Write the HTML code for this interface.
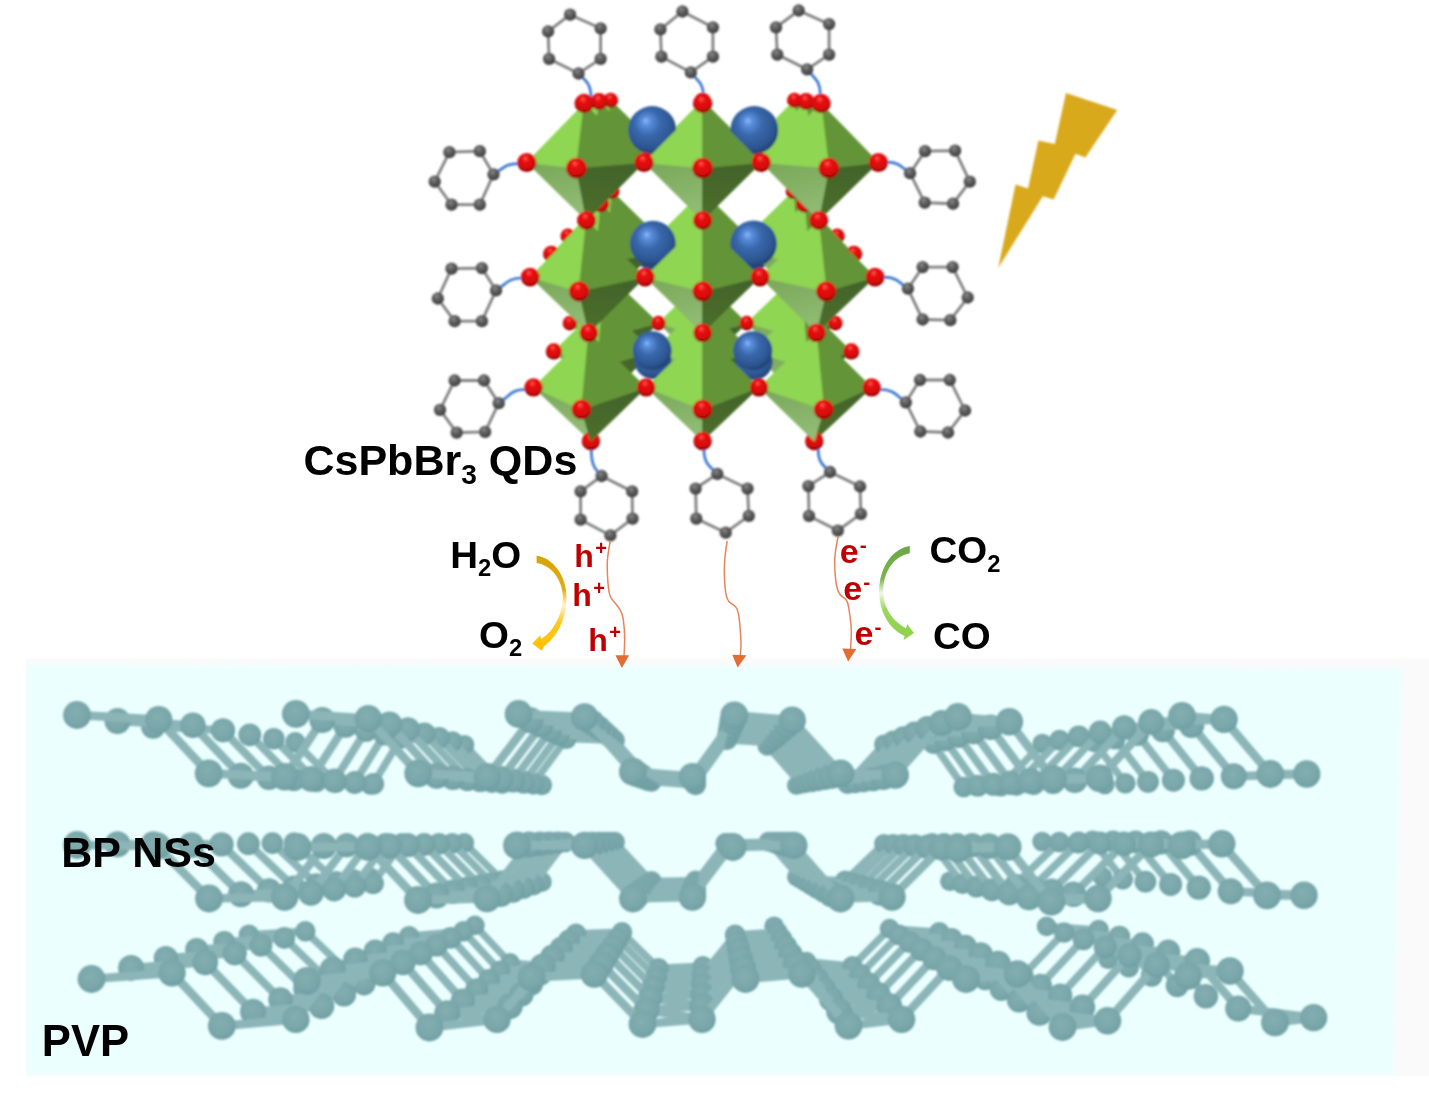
<!DOCTYPE html>
<html><head><meta charset="utf-8"><style>html,body{margin:0;padding:0;background:#fff}svg{display:block}</style></head><body><svg width="1429" height="1102" viewBox="0 0 1429 1102">
<defs>
<radialGradient id="gR" cx="0.5" cy="0.38" r="0.64" fx="0.42" fy="0.27">
 <stop offset="0" stop-color="#ff8a7a"/><stop offset="0.1" stop-color="#f83434"/><stop offset="0.3" stop-color="#e81212"/><stop offset="0.72" stop-color="#d40909"/><stop offset="0.81" stop-color="#a80505"/><stop offset="1" stop-color="#820202"/>
</radialGradient>
<radialGradient id="gB" cx="0.46" cy="0.42" r="0.66" fx="0.36" fy="0.30">
 <stop offset="0" stop-color="#8abaff"/><stop offset="0.14" stop-color="#5a8edc"/><stop offset="0.4" stop-color="#3a68ac"/><stop offset="0.75" stop-color="#2c5590"/><stop offset="0.9" stop-color="#213f70"/><stop offset="1" stop-color="#182f58"/>
</radialGradient>
<radialGradient id="gC" cx="0.44" cy="0.40" r="0.66" fx="0.40" fy="0.30">
 <stop offset="0" stop-color="#8e8e8e"/><stop offset="0.3" stop-color="#686868"/><stop offset="0.75" stop-color="#484848"/><stop offset="1" stop-color="#2c2c2c"/>
</radialGradient>
<radialGradient id="gP" cx="0.45" cy="0.40" r="0.65">
 <stop offset="0" stop-color="#84aeb0"/><stop offset="0.6" stop-color="#7aa7aa"/><stop offset="1" stop-color="#6c9da1"/>
</radialGradient>
<linearGradient id="gBL" x1="0.3" y1="0" x2="0.6" y2="1"><stop offset="0" stop-color="#7aa85a"/><stop offset="1" stop-color="#93bd76"/></linearGradient>
<linearGradient id="gBR" x1="0.5" y1="0" x2="0.3" y2="1"><stop offset="0" stop-color="#42632a"/><stop offset="1" stop-color="#4b6f2d"/></linearGradient>
<filter id="bl" x="-5%" y="-20%" width="110%" height="140%"><feGaussianBlur stdDeviation="1.3"/></filter>
<filter id="b05" x="-5%" y="-5%" width="110%" height="110%"><feGaussianBlur stdDeviation="0.85"/></filter>
<filter id="b2" x="-5%" y="-5%" width="110%" height="110%"><feGaussianBlur stdDeviation="2.2"/></filter>

<filter id="b04" x="-2%" y="-2%" width="104%" height="104%"><feGaussianBlur stdDeviation="0.45"/></filter>
<linearGradient id="gY" x1="0" y1="0" x2="0" y2="1"><stop offset="0" stop-color="#d9a300"/><stop offset="0.35" stop-color="#e0ad10"/><stop offset="0.52" stop-color="#fff4d0"/><stop offset="0.7" stop-color="#ffc81e"/><stop offset="1" stop-color="#ffc000"/></linearGradient>
<linearGradient id="gG" x1="0" y1="0" x2="0" y2="1"><stop offset="0" stop-color="#6aa842"/><stop offset="0.35" stop-color="#7ab552"/><stop offset="0.5" stop-color="#eef8e4"/><stop offset="0.68" stop-color="#9ad65c"/><stop offset="1" stop-color="#8fd04a"/></linearGradient>
</defs>
<rect width="1429" height="1102" fill="#fff"/>
<rect x="25.5" y="658.5" width="1404" height="417" fill="#fafafa"/>
<g filter="url(#b2)"><polygon points="25.5,665 1401.5,668 1393.7,1075.5 25.5,1075.5" fill="#ebffff"/></g>
<rect x="0" y="650" width="25.5" height="440" fill="#fff"/><rect x="0" y="1076" width="1429" height="26" fill="#fff"/>
<g filter="url(#bl)"><circle cx="370.3" cy="785.3" r="9.4" fill="url(#gP)"/><circle cx="796.4" cy="785.3" r="9.4" fill="url(#gP)"/><line x1="464.5" y1="744.7" x2="502.2" y2="784.0" stroke="#8cb5b8" stroke-width="7.2" stroke-linecap="round"/><line x1="767.3" y1="745.9" x2="800.8" y2="784.0" stroke="#8cb5b8" stroke-width="7.2" stroke-linecap="round"/><circle cx="464.5" cy="744.7" r="9.8" fill="url(#gP)"/><circle cx="767.3" cy="745.9" r="9.8" fill="url(#gP)"/><line x1="541.8" y1="785.0" x2="502.2" y2="784.0" stroke="#8cb5b8" stroke-width="7.3" stroke-linecap="round"/><line x1="847.6" y1="783.8" x2="800.8" y2="784.0" stroke="#8cb5b8" stroke-width="7.3" stroke-linecap="round"/><line x1="847.6" y1="783.8" x2="883.9" y2="744.2" stroke="#8cb5b8" stroke-width="7.3" stroke-linecap="round"/><line x1="933.3" y1="743.9" x2="883.9" y2="744.2" stroke="#8cb5b8" stroke-width="7.3" stroke-linecap="round"/><line x1="1000.8" y1="786.2" x2="1042.3" y2="743.5" stroke="#8cb5b8" stroke-width="7.3" stroke-linecap="round"/><line x1="1094.2" y1="742.1" x2="1042.3" y2="743.5" stroke="#8cb5b8" stroke-width="7.3" stroke-linecap="round"/><circle cx="354.0" cy="784.0" r="9.8" fill="url(#gP)"/><circle cx="502.2" cy="784.0" r="9.8" fill="url(#gP)"/><circle cx="800.8" cy="784.0" r="9.8" fill="url(#gP)"/><circle cx="883.9" cy="744.2" r="9.8" fill="url(#gP)"/><circle cx="1042.3" cy="743.5" r="9.8" fill="url(#gP)"/><circle cx="1104.8" cy="784.5" r="9.8" fill="url(#gP)"/><line x1="295.3" y1="742.3" x2="336.0" y2="782.7" stroke="#8cb5b8" stroke-width="7.4" stroke-linecap="round"/><line x1="400.8" y1="738.5" x2="452.5" y2="741.5" stroke="#8cb5b8" stroke-width="7.4" stroke-linecap="round"/><line x1="452.5" y1="741.5" x2="491.8" y2="782.7" stroke="#8cb5b8" stroke-width="7.4" stroke-linecap="round"/><line x1="491.8" y1="782.7" x2="541.8" y2="785.0" stroke="#8cb5b8" stroke-width="7.4" stroke-linecap="round"/><line x1="566.4" y1="738.6" x2="614.7" y2="740.3" stroke="#8cb5b8" stroke-width="7.4" stroke-linecap="round"/><line x1="614.7" y1="740.3" x2="651.4" y2="781.5" stroke="#8cb5b8" stroke-width="7.4" stroke-linecap="round"/><line x1="651.4" y1="781.5" x2="695.6" y2="785.0" stroke="#8cb5b8" stroke-width="7.4" stroke-linecap="round"/><line x1="726.8" y1="739.7" x2="770.4" y2="742.7" stroke="#8cb5b8" stroke-width="7.4" stroke-linecap="round"/><line x1="770.4" y1="742.7" x2="805.7" y2="782.7" stroke="#8cb5b8" stroke-width="7.4" stroke-linecap="round"/><line x1="805.7" y1="782.7" x2="847.6" y2="783.8" stroke="#8cb5b8" stroke-width="7.4" stroke-linecap="round"/><line x1="893.1" y1="740.9" x2="933.3" y2="743.9" stroke="#8cb5b8" stroke-width="7.4" stroke-linecap="round"/><line x1="933.3" y1="743.9" x2="963.7" y2="787.0" stroke="#8cb5b8" stroke-width="7.4" stroke-linecap="round"/><line x1="963.7" y1="787.0" x2="1000.8" y2="786.2" stroke="#8cb5b8" stroke-width="7.4" stroke-linecap="round"/><line x1="1059.6" y1="740.1" x2="1094.2" y2="742.1" stroke="#8cb5b8" stroke-width="7.4" stroke-linecap="round"/><line x1="1094.2" y1="742.1" x2="1125.3" y2="783.2" stroke="#8cb5b8" stroke-width="7.4" stroke-linecap="round"/><circle cx="295.3" cy="742.3" r="10.2" fill="url(#gP)"/><circle cx="452.5" cy="741.5" r="10.2" fill="url(#gP)"/><circle cx="541.8" cy="785.0" r="10.2" fill="url(#gP)"/><circle cx="614.7" cy="740.3" r="10.2" fill="url(#gP)"/><circle cx="695.6" cy="785.0" r="10.2" fill="url(#gP)"/><circle cx="770.4" cy="742.7" r="10.2" fill="url(#gP)"/><circle cx="847.6" cy="783.8" r="10.2" fill="url(#gP)"/><circle cx="933.3" cy="743.9" r="10.2" fill="url(#gP)"/><circle cx="1000.8" cy="786.2" r="10.2" fill="url(#gP)"/><circle cx="1094.2" cy="742.1" r="10.2" fill="url(#gP)"/><line x1="373.3" y1="783.8" x2="336.0" y2="782.7" stroke="#8cb5b8" stroke-width="7.4" stroke-linecap="round"/><line x1="373.3" y1="783.8" x2="400.8" y2="738.5" stroke="#8cb5b8" stroke-width="7.4" stroke-linecap="round"/><line x1="439.2" y1="737.8" x2="400.8" y2="738.5" stroke="#8cb5b8" stroke-width="7.4" stroke-linecap="round"/><line x1="533.2" y1="783.6" x2="491.8" y2="782.7" stroke="#8cb5b8" stroke-width="7.4" stroke-linecap="round"/><line x1="533.2" y1="783.6" x2="566.4" y2="738.6" stroke="#8cb5b8" stroke-width="7.4" stroke-linecap="round"/><line x1="610.0" y1="736.6" x2="566.4" y2="738.6" stroke="#8cb5b8" stroke-width="7.4" stroke-linecap="round"/><line x1="695.1" y1="783.6" x2="651.4" y2="781.5" stroke="#8cb5b8" stroke-width="7.4" stroke-linecap="round"/><line x1="695.1" y1="783.6" x2="726.8" y2="739.7" stroke="#8cb5b8" stroke-width="7.4" stroke-linecap="round"/><line x1="773.8" y1="739.1" x2="726.8" y2="739.7" stroke="#8cb5b8" stroke-width="7.4" stroke-linecap="round"/><line x1="855.1" y1="782.4" x2="805.7" y2="782.7" stroke="#8cb5b8" stroke-width="7.4" stroke-linecap="round"/><line x1="855.1" y1="782.4" x2="893.1" y2="740.9" stroke="#8cb5b8" stroke-width="7.4" stroke-linecap="round"/><line x1="945.3" y1="740.4" x2="893.1" y2="740.9" stroke="#8cb5b8" stroke-width="7.4" stroke-linecap="round"/><line x1="1016.4" y1="784.9" x2="963.7" y2="787.0" stroke="#8cb5b8" stroke-width="7.4" stroke-linecap="round"/><line x1="1016.4" y1="784.9" x2="1059.6" y2="740.1" stroke="#8cb5b8" stroke-width="7.4" stroke-linecap="round"/><line x1="1114.7" y1="738.5" x2="1059.6" y2="740.1" stroke="#8cb5b8" stroke-width="7.4" stroke-linecap="round"/><circle cx="336.0" cy="782.7" r="10.3" fill="url(#gP)"/><circle cx="400.8" cy="738.5" r="10.3" fill="url(#gP)"/><circle cx="491.8" cy="782.7" r="10.3" fill="url(#gP)"/><circle cx="566.4" cy="738.6" r="10.3" fill="url(#gP)"/><circle cx="651.4" cy="781.5" r="10.3" fill="url(#gP)"/><circle cx="726.8" cy="739.7" r="10.3" fill="url(#gP)"/><circle cx="805.7" cy="782.7" r="10.3" fill="url(#gP)"/><circle cx="893.1" cy="740.9" r="10.3" fill="url(#gP)"/><circle cx="963.7" cy="787.0" r="10.3" fill="url(#gP)"/><circle cx="1059.6" cy="740.1" r="10.3" fill="url(#gP)"/><circle cx="1125.3" cy="783.2" r="10.3" fill="url(#gP)"/><line x1="273.8" y1="738.7" x2="316.1" y2="781.2" stroke="#8cb5b8" stroke-width="7.6" stroke-linecap="round"/><line x1="316.1" y1="781.2" x2="373.3" y2="783.8" stroke="#8cb5b8" stroke-width="7.6" stroke-linecap="round"/><line x1="384.4" y1="734.6" x2="439.2" y2="737.8" stroke="#8cb5b8" stroke-width="7.6" stroke-linecap="round"/><line x1="439.2" y1="737.8" x2="480.2" y2="781.2" stroke="#8cb5b8" stroke-width="7.6" stroke-linecap="round"/><line x1="480.2" y1="781.2" x2="533.2" y2="783.6" stroke="#8cb5b8" stroke-width="7.6" stroke-linecap="round"/><line x1="558.9" y1="734.8" x2="610.0" y2="736.6" stroke="#8cb5b8" stroke-width="7.6" stroke-linecap="round"/><line x1="610.0" y1="736.6" x2="648.5" y2="780.0" stroke="#8cb5b8" stroke-width="7.6" stroke-linecap="round"/><line x1="648.5" y1="780.0" x2="695.1" y2="783.6" stroke="#8cb5b8" stroke-width="7.6" stroke-linecap="round"/><line x1="728.0" y1="735.9" x2="773.8" y2="739.1" stroke="#8cb5b8" stroke-width="7.6" stroke-linecap="round"/><line x1="773.8" y1="739.1" x2="811.2" y2="781.2" stroke="#8cb5b8" stroke-width="7.6" stroke-linecap="round"/><line x1="811.2" y1="781.2" x2="855.1" y2="782.4" stroke="#8cb5b8" stroke-width="7.6" stroke-linecap="round"/><line x1="903.3" y1="737.1" x2="945.3" y2="740.4" stroke="#8cb5b8" stroke-width="7.6" stroke-linecap="round"/><line x1="945.3" y1="740.4" x2="977.7" y2="785.7" stroke="#8cb5b8" stroke-width="7.6" stroke-linecap="round"/><line x1="977.7" y1="785.7" x2="1016.4" y2="784.9" stroke="#8cb5b8" stroke-width="7.6" stroke-linecap="round"/><line x1="1078.8" y1="736.3" x2="1114.7" y2="738.5" stroke="#8cb5b8" stroke-width="7.6" stroke-linecap="round"/><line x1="1114.7" y1="738.5" x2="1148.0" y2="781.8" stroke="#8cb5b8" stroke-width="7.6" stroke-linecap="round"/><circle cx="273.8" cy="738.7" r="10.8" fill="url(#gP)"/><circle cx="373.3" cy="783.8" r="10.8" fill="url(#gP)"/><circle cx="439.2" cy="737.8" r="10.8" fill="url(#gP)"/><circle cx="533.2" cy="783.6" r="10.8" fill="url(#gP)"/><circle cx="610.0" cy="736.6" r="10.8" fill="url(#gP)"/><circle cx="695.1" cy="783.6" r="10.8" fill="url(#gP)"/><circle cx="773.8" cy="739.1" r="10.8" fill="url(#gP)"/><circle cx="855.1" cy="782.4" r="10.8" fill="url(#gP)"/><circle cx="945.3" cy="740.4" r="10.8" fill="url(#gP)"/><circle cx="1016.4" cy="784.9" r="10.8" fill="url(#gP)"/><circle cx="1114.7" cy="738.5" r="10.8" fill="url(#gP)"/><line x1="354.9" y1="782.3" x2="316.1" y2="781.2" stroke="#8cb5b8" stroke-width="7.7" stroke-linecap="round"/><line x1="354.9" y1="782.3" x2="384.4" y2="734.6" stroke="#8cb5b8" stroke-width="7.7" stroke-linecap="round"/><line x1="424.4" y1="733.8" x2="384.4" y2="734.6" stroke="#8cb5b8" stroke-width="7.7" stroke-linecap="round"/><line x1="523.7" y1="782.2" x2="480.2" y2="781.2" stroke="#8cb5b8" stroke-width="7.7" stroke-linecap="round"/><line x1="523.7" y1="782.2" x2="558.9" y2="734.8" stroke="#8cb5b8" stroke-width="7.7" stroke-linecap="round"/><line x1="604.7" y1="732.5" x2="558.9" y2="734.8" stroke="#8cb5b8" stroke-width="7.7" stroke-linecap="round"/><line x1="694.5" y1="782.2" x2="648.5" y2="780.0" stroke="#8cb5b8" stroke-width="7.7" stroke-linecap="round"/><line x1="694.5" y1="782.2" x2="728.0" y2="735.9" stroke="#8cb5b8" stroke-width="7.7" stroke-linecap="round"/><line x1="777.7" y1="735.2" x2="728.0" y2="735.9" stroke="#8cb5b8" stroke-width="7.7" stroke-linecap="round"/><line x1="863.5" y1="780.8" x2="811.2" y2="781.2" stroke="#8cb5b8" stroke-width="7.7" stroke-linecap="round"/><line x1="863.5" y1="780.8" x2="903.3" y2="737.1" stroke="#8cb5b8" stroke-width="7.7" stroke-linecap="round"/><line x1="958.6" y1="736.5" x2="903.3" y2="737.1" stroke="#8cb5b8" stroke-width="7.7" stroke-linecap="round"/><line x1="1033.7" y1="783.5" x2="977.7" y2="785.7" stroke="#8cb5b8" stroke-width="7.7" stroke-linecap="round"/><line x1="1033.7" y1="783.5" x2="1078.8" y2="736.3" stroke="#8cb5b8" stroke-width="7.7" stroke-linecap="round"/><line x1="1137.5" y1="734.5" x2="1078.8" y2="736.3" stroke="#8cb5b8" stroke-width="7.7" stroke-linecap="round"/><circle cx="316.1" cy="781.2" r="10.9" fill="url(#gP)"/><circle cx="384.4" cy="734.6" r="10.9" fill="url(#gP)"/><circle cx="480.2" cy="781.2" r="10.9" fill="url(#gP)"/><circle cx="558.9" cy="734.8" r="10.9" fill="url(#gP)"/><circle cx="648.5" cy="780.0" r="10.9" fill="url(#gP)"/><circle cx="728.0" cy="735.9" r="10.9" fill="url(#gP)"/><circle cx="811.2" cy="781.2" r="10.9" fill="url(#gP)"/><circle cx="903.3" cy="737.1" r="10.9" fill="url(#gP)"/><circle cx="977.7" cy="785.7" r="10.9" fill="url(#gP)"/><circle cx="1078.8" cy="736.3" r="10.9" fill="url(#gP)"/><circle cx="1148.0" cy="781.8" r="10.9" fill="url(#gP)"/><line x1="249.8" y1="734.8" x2="293.8" y2="779.6" stroke="#8cb5b8" stroke-width="7.8" stroke-linecap="round"/><line x1="293.8" y1="779.6" x2="354.9" y2="782.3" stroke="#8cb5b8" stroke-width="7.8" stroke-linecap="round"/><line x1="366.1" y1="730.3" x2="424.4" y2="733.8" stroke="#8cb5b8" stroke-width="7.8" stroke-linecap="round"/><line x1="424.4" y1="733.8" x2="467.4" y2="779.6" stroke="#8cb5b8" stroke-width="7.8" stroke-linecap="round"/><line x1="467.4" y1="779.6" x2="523.7" y2="782.2" stroke="#8cb5b8" stroke-width="7.8" stroke-linecap="round"/><line x1="550.6" y1="730.5" x2="604.7" y2="732.5" stroke="#8cb5b8" stroke-width="7.8" stroke-linecap="round"/><line x1="604.7" y1="732.5" x2="645.3" y2="778.3" stroke="#8cb5b8" stroke-width="7.8" stroke-linecap="round"/><line x1="645.3" y1="778.3" x2="694.5" y2="782.2" stroke="#8cb5b8" stroke-width="7.8" stroke-linecap="round"/><line x1="729.3" y1="731.6" x2="777.7" y2="735.2" stroke="#8cb5b8" stroke-width="7.8" stroke-linecap="round"/><line x1="777.7" y1="735.2" x2="817.3" y2="779.6" stroke="#8cb5b8" stroke-width="7.8" stroke-linecap="round"/><line x1="817.3" y1="779.6" x2="863.5" y2="780.8" stroke="#8cb5b8" stroke-width="7.8" stroke-linecap="round"/><line x1="914.6" y1="732.9" x2="958.6" y2="736.5" stroke="#8cb5b8" stroke-width="7.8" stroke-linecap="round"/><line x1="958.6" y1="736.5" x2="993.3" y2="784.3" stroke="#8cb5b8" stroke-width="7.8" stroke-linecap="round"/><line x1="993.3" y1="784.3" x2="1033.7" y2="783.5" stroke="#8cb5b8" stroke-width="7.8" stroke-linecap="round"/><line x1="1100.2" y1="732.1" x2="1137.5" y2="734.5" stroke="#8cb5b8" stroke-width="7.8" stroke-linecap="round"/><line x1="1137.5" y1="734.5" x2="1173.4" y2="780.2" stroke="#8cb5b8" stroke-width="7.8" stroke-linecap="round"/><circle cx="249.8" cy="734.8" r="11.4" fill="url(#gP)"/><circle cx="354.9" cy="782.3" r="11.4" fill="url(#gP)"/><circle cx="424.4" cy="733.8" r="11.4" fill="url(#gP)"/><circle cx="523.7" cy="782.2" r="11.4" fill="url(#gP)"/><circle cx="604.7" cy="732.5" r="11.4" fill="url(#gP)"/><circle cx="694.5" cy="782.2" r="11.4" fill="url(#gP)"/><circle cx="777.7" cy="735.2" r="11.4" fill="url(#gP)"/><circle cx="863.5" cy="780.8" r="11.4" fill="url(#gP)"/><circle cx="958.6" cy="736.5" r="11.4" fill="url(#gP)"/><circle cx="1033.7" cy="783.5" r="11.4" fill="url(#gP)"/><circle cx="1137.5" cy="734.5" r="11.4" fill="url(#gP)"/><line x1="334.3" y1="780.7" x2="293.8" y2="779.6" stroke="#8cb5b8" stroke-width="7.9" stroke-linecap="round"/><line x1="334.3" y1="780.7" x2="366.1" y2="730.3" stroke="#8cb5b8" stroke-width="7.9" stroke-linecap="round"/><line x1="407.9" y1="729.4" x2="366.1" y2="730.3" stroke="#8cb5b8" stroke-width="7.9" stroke-linecap="round"/><line x1="513.0" y1="780.5" x2="467.4" y2="779.6" stroke="#8cb5b8" stroke-width="7.9" stroke-linecap="round"/><line x1="513.0" y1="780.5" x2="550.6" y2="730.5" stroke="#8cb5b8" stroke-width="7.9" stroke-linecap="round"/><line x1="598.8" y1="727.9" x2="550.6" y2="730.5" stroke="#8cb5b8" stroke-width="7.9" stroke-linecap="round"/><line x1="693.9" y1="780.5" x2="645.3" y2="778.3" stroke="#8cb5b8" stroke-width="7.9" stroke-linecap="round"/><line x1="693.9" y1="780.5" x2="729.3" y2="731.6" stroke="#8cb5b8" stroke-width="7.9" stroke-linecap="round"/><line x1="781.9" y1="730.8" x2="729.3" y2="731.6" stroke="#8cb5b8" stroke-width="7.9" stroke-linecap="round"/><line x1="872.8" y1="779.1" x2="817.3" y2="779.6" stroke="#8cb5b8" stroke-width="7.9" stroke-linecap="round"/><line x1="872.8" y1="779.1" x2="914.6" y2="732.9" stroke="#8cb5b8" stroke-width="7.9" stroke-linecap="round"/><line x1="973.6" y1="732.2" x2="914.6" y2="732.9" stroke="#8cb5b8" stroke-width="7.9" stroke-linecap="round"/><line x1="1053.1" y1="781.9" x2="993.3" y2="784.3" stroke="#8cb5b8" stroke-width="7.9" stroke-linecap="round"/><line x1="1053.1" y1="781.9" x2="1100.2" y2="732.1" stroke="#8cb5b8" stroke-width="7.9" stroke-linecap="round"/><line x1="1162.9" y1="730.1" x2="1100.2" y2="732.1" stroke="#8cb5b8" stroke-width="7.9" stroke-linecap="round"/><circle cx="293.8" cy="779.6" r="11.5" fill="url(#gP)"/><circle cx="366.1" cy="730.3" r="11.5" fill="url(#gP)"/><circle cx="467.4" cy="779.6" r="11.5" fill="url(#gP)"/><circle cx="550.6" cy="730.5" r="11.5" fill="url(#gP)"/><circle cx="645.3" cy="778.3" r="11.5" fill="url(#gP)"/><circle cx="729.3" cy="731.6" r="11.5" fill="url(#gP)"/><circle cx="817.3" cy="779.6" r="11.5" fill="url(#gP)"/><circle cx="914.6" cy="732.9" r="11.5" fill="url(#gP)"/><circle cx="993.3" cy="784.3" r="11.5" fill="url(#gP)"/><circle cx="1100.2" cy="732.1" r="11.5" fill="url(#gP)"/><circle cx="1173.4" cy="780.2" r="11.5" fill="url(#gP)"/><line x1="153.2" y1="726.5" x2="223.0" y2="730.3" stroke="#8cb5b8" stroke-width="8.1" stroke-linecap="round"/><line x1="223.0" y1="730.3" x2="268.9" y2="777.8" stroke="#8cb5b8" stroke-width="8.1" stroke-linecap="round"/><line x1="268.9" y1="777.8" x2="334.3" y2="780.7" stroke="#8cb5b8" stroke-width="8.1" stroke-linecap="round"/><line x1="345.5" y1="725.5" x2="407.9" y2="729.4" stroke="#8cb5b8" stroke-width="8.1" stroke-linecap="round"/><line x1="407.9" y1="729.4" x2="453.0" y2="777.8" stroke="#8cb5b8" stroke-width="8.1" stroke-linecap="round"/><line x1="453.0" y1="777.8" x2="513.0" y2="780.5" stroke="#8cb5b8" stroke-width="8.1" stroke-linecap="round"/><line x1="541.2" y1="725.6" x2="598.8" y2="727.9" stroke="#8cb5b8" stroke-width="8.1" stroke-linecap="round"/><line x1="598.8" y1="727.9" x2="641.6" y2="776.3" stroke="#8cb5b8" stroke-width="8.1" stroke-linecap="round"/><line x1="641.6" y1="776.3" x2="693.9" y2="780.5" stroke="#8cb5b8" stroke-width="8.1" stroke-linecap="round"/><line x1="730.7" y1="726.9" x2="781.9" y2="730.8" stroke="#8cb5b8" stroke-width="8.1" stroke-linecap="round"/><line x1="781.9" y1="730.8" x2="824.1" y2="777.8" stroke="#8cb5b8" stroke-width="8.1" stroke-linecap="round"/><line x1="824.1" y1="777.8" x2="872.8" y2="779.1" stroke="#8cb5b8" stroke-width="8.1" stroke-linecap="round"/><line x1="927.3" y1="728.3" x2="973.6" y2="732.2" stroke="#8cb5b8" stroke-width="8.1" stroke-linecap="round"/><line x1="973.6" y1="732.2" x2="1010.8" y2="782.8" stroke="#8cb5b8" stroke-width="8.1" stroke-linecap="round"/><line x1="1010.8" y1="782.8" x2="1053.1" y2="781.9" stroke="#8cb5b8" stroke-width="8.1" stroke-linecap="round"/><line x1="1124.2" y1="727.4" x2="1162.9" y2="730.1" stroke="#8cb5b8" stroke-width="8.1" stroke-linecap="round"/><line x1="1162.9" y1="730.1" x2="1201.7" y2="778.4" stroke="#8cb5b8" stroke-width="8.1" stroke-linecap="round"/><circle cx="223.0" cy="730.3" r="12.1" fill="url(#gP)"/><circle cx="334.3" cy="780.7" r="12.1" fill="url(#gP)"/><circle cx="407.9" cy="729.4" r="12.1" fill="url(#gP)"/><circle cx="513.0" cy="780.5" r="12.1" fill="url(#gP)"/><circle cx="598.8" cy="727.9" r="12.1" fill="url(#gP)"/><circle cx="693.9" cy="780.5" r="12.1" fill="url(#gP)"/><circle cx="781.9" cy="730.8" r="12.1" fill="url(#gP)"/><circle cx="872.8" cy="779.1" r="12.1" fill="url(#gP)"/><circle cx="973.6" cy="732.2" r="12.1" fill="url(#gP)"/><circle cx="1053.1" cy="781.9" r="12.1" fill="url(#gP)"/><circle cx="1162.9" cy="730.1" r="12.1" fill="url(#gP)"/><line x1="192.9" y1="725.3" x2="153.2" y2="726.5" stroke="#8cb5b8" stroke-width="8.2" stroke-linecap="round"/><line x1="311.1" y1="778.9" x2="268.9" y2="777.8" stroke="#8cb5b8" stroke-width="8.2" stroke-linecap="round"/><line x1="311.1" y1="778.9" x2="345.5" y2="725.5" stroke="#8cb5b8" stroke-width="8.2" stroke-linecap="round"/><line x1="389.4" y1="724.3" x2="345.5" y2="725.5" stroke="#8cb5b8" stroke-width="8.2" stroke-linecap="round"/><line x1="501.0" y1="778.7" x2="453.0" y2="777.8" stroke="#8cb5b8" stroke-width="8.2" stroke-linecap="round"/><line x1="501.0" y1="778.7" x2="541.2" y2="725.6" stroke="#8cb5b8" stroke-width="8.2" stroke-linecap="round"/><line x1="592.1" y1="722.8" x2="541.2" y2="725.6" stroke="#8cb5b8" stroke-width="8.2" stroke-linecap="round"/><line x1="693.2" y1="778.7" x2="641.6" y2="776.3" stroke="#8cb5b8" stroke-width="8.2" stroke-linecap="round"/><line x1="693.2" y1="778.7" x2="730.7" y2="726.9" stroke="#8cb5b8" stroke-width="8.2" stroke-linecap="round"/><line x1="786.7" y1="725.8" x2="730.7" y2="726.9" stroke="#8cb5b8" stroke-width="8.2" stroke-linecap="round"/><line x1="883.3" y1="777.2" x2="824.1" y2="777.8" stroke="#8cb5b8" stroke-width="8.2" stroke-linecap="round"/><line x1="883.3" y1="777.2" x2="927.3" y2="728.3" stroke="#8cb5b8" stroke-width="8.2" stroke-linecap="round"/><line x1="990.4" y1="727.3" x2="927.3" y2="728.3" stroke="#8cb5b8" stroke-width="8.2" stroke-linecap="round"/><line x1="1074.8" y1="780.2" x2="1010.8" y2="782.8" stroke="#8cb5b8" stroke-width="8.2" stroke-linecap="round"/><line x1="1074.8" y1="780.2" x2="1124.2" y2="727.4" stroke="#8cb5b8" stroke-width="8.2" stroke-linecap="round"/><line x1="1191.5" y1="725.1" x2="1124.2" y2="727.4" stroke="#8cb5b8" stroke-width="8.2" stroke-linecap="round"/><circle cx="153.2" cy="726.5" r="12.2" fill="url(#gP)"/><circle cx="268.9" cy="777.8" r="12.2" fill="url(#gP)"/><circle cx="345.5" cy="725.5" r="12.2" fill="url(#gP)"/><circle cx="453.0" cy="777.8" r="12.2" fill="url(#gP)"/><circle cx="541.2" cy="725.6" r="12.2" fill="url(#gP)"/><circle cx="641.6" cy="776.3" r="12.2" fill="url(#gP)"/><circle cx="730.7" cy="726.9" r="12.2" fill="url(#gP)"/><circle cx="824.1" cy="777.8" r="12.2" fill="url(#gP)"/><circle cx="927.3" cy="728.3" r="12.2" fill="url(#gP)"/><circle cx="1010.8" cy="782.8" r="12.2" fill="url(#gP)"/><circle cx="1124.2" cy="727.4" r="12.2" fill="url(#gP)"/><circle cx="1201.7" cy="778.4" r="12.2" fill="url(#gP)"/><line x1="117.5" y1="721.1" x2="192.9" y2="725.3" stroke="#8cb5b8" stroke-width="8.4" stroke-linecap="round"/><line x1="192.9" y1="725.3" x2="240.7" y2="775.7" stroke="#8cb5b8" stroke-width="8.4" stroke-linecap="round"/><line x1="240.7" y1="775.7" x2="311.1" y2="778.9" stroke="#8cb5b8" stroke-width="8.4" stroke-linecap="round"/><line x1="322.3" y1="720.0" x2="389.4" y2="724.3" stroke="#8cb5b8" stroke-width="8.4" stroke-linecap="round"/><line x1="389.4" y1="724.3" x2="436.7" y2="775.7" stroke="#8cb5b8" stroke-width="8.4" stroke-linecap="round"/><line x1="436.7" y1="775.7" x2="501.0" y2="778.7" stroke="#8cb5b8" stroke-width="8.4" stroke-linecap="round"/><line x1="530.6" y1="720.2" x2="592.1" y2="722.8" stroke="#8cb5b8" stroke-width="8.4" stroke-linecap="round"/><line x1="592.1" y1="722.8" x2="637.6" y2="774.2" stroke="#8cb5b8" stroke-width="8.4" stroke-linecap="round"/><line x1="637.6" y1="774.2" x2="693.2" y2="778.7" stroke="#8cb5b8" stroke-width="8.4" stroke-linecap="round"/><line x1="732.4" y1="721.5" x2="786.7" y2="725.8" stroke="#8cb5b8" stroke-width="8.4" stroke-linecap="round"/><line x1="786.7" y1="725.8" x2="831.8" y2="775.7" stroke="#8cb5b8" stroke-width="8.4" stroke-linecap="round"/><line x1="831.8" y1="775.7" x2="883.3" y2="777.2" stroke="#8cb5b8" stroke-width="8.4" stroke-linecap="round"/><line x1="941.7" y1="723.0" x2="990.4" y2="727.3" stroke="#8cb5b8" stroke-width="8.4" stroke-linecap="round"/><line x1="990.4" y1="727.3" x2="1030.5" y2="781.0" stroke="#8cb5b8" stroke-width="8.4" stroke-linecap="round"/><line x1="1030.5" y1="781.0" x2="1074.8" y2="780.2" stroke="#8cb5b8" stroke-width="8.4" stroke-linecap="round"/><line x1="1151.2" y1="722.1" x2="1191.5" y2="725.1" stroke="#8cb5b8" stroke-width="8.4" stroke-linecap="round"/><line x1="1191.5" y1="725.1" x2="1233.8" y2="776.3" stroke="#8cb5b8" stroke-width="8.4" stroke-linecap="round"/><circle cx="192.9" cy="725.3" r="12.8" fill="url(#gP)"/><circle cx="311.1" cy="778.9" r="12.8" fill="url(#gP)"/><circle cx="389.4" cy="724.3" r="12.8" fill="url(#gP)"/><circle cx="501.0" cy="778.7" r="12.8" fill="url(#gP)"/><circle cx="592.1" cy="722.8" r="12.8" fill="url(#gP)"/><circle cx="693.2" cy="778.7" r="12.8" fill="url(#gP)"/><circle cx="786.7" cy="725.8" r="12.8" fill="url(#gP)"/><circle cx="883.3" cy="777.2" r="12.8" fill="url(#gP)"/><circle cx="990.4" cy="727.3" r="12.8" fill="url(#gP)"/><circle cx="1074.8" cy="780.2" r="12.8" fill="url(#gP)"/><circle cx="1191.5" cy="725.1" r="12.8" fill="url(#gP)"/><line x1="158.7" y1="719.7" x2="117.5" y2="721.1" stroke="#8cb5b8" stroke-width="8.5" stroke-linecap="round"/><line x1="284.8" y1="776.8" x2="240.7" y2="775.7" stroke="#8cb5b8" stroke-width="8.5" stroke-linecap="round"/><line x1="284.8" y1="776.8" x2="322.3" y2="720.0" stroke="#8cb5b8" stroke-width="8.5" stroke-linecap="round"/><line x1="368.3" y1="718.6" x2="322.3" y2="720.0" stroke="#8cb5b8" stroke-width="8.5" stroke-linecap="round"/><line x1="487.4" y1="776.6" x2="436.7" y2="775.7" stroke="#8cb5b8" stroke-width="8.5" stroke-linecap="round"/><line x1="487.4" y1="776.6" x2="530.6" y2="720.2" stroke="#8cb5b8" stroke-width="8.5" stroke-linecap="round"/><line x1="584.6" y1="717.0" x2="530.6" y2="720.2" stroke="#8cb5b8" stroke-width="8.5" stroke-linecap="round"/><line x1="692.4" y1="776.6" x2="637.6" y2="774.2" stroke="#8cb5b8" stroke-width="8.5" stroke-linecap="round"/><line x1="692.4" y1="776.6" x2="732.4" y2="721.5" stroke="#8cb5b8" stroke-width="8.5" stroke-linecap="round"/><line x1="792.2" y1="720.2" x2="732.4" y2="721.5" stroke="#8cb5b8" stroke-width="8.5" stroke-linecap="round"/><line x1="895.2" y1="775.0" x2="831.8" y2="775.7" stroke="#8cb5b8" stroke-width="8.5" stroke-linecap="round"/><line x1="895.2" y1="775.0" x2="941.7" y2="723.0" stroke="#8cb5b8" stroke-width="8.5" stroke-linecap="round"/><line x1="1009.4" y1="721.8" x2="941.7" y2="723.0" stroke="#8cb5b8" stroke-width="8.5" stroke-linecap="round"/><line x1="1099.5" y1="778.2" x2="1030.5" y2="781.0" stroke="#8cb5b8" stroke-width="8.5" stroke-linecap="round"/><line x1="1099.5" y1="778.2" x2="1151.2" y2="722.1" stroke="#8cb5b8" stroke-width="8.5" stroke-linecap="round"/><line x1="1224.0" y1="719.4" x2="1151.2" y2="722.1" stroke="#8cb5b8" stroke-width="8.5" stroke-linecap="round"/><line x1="1306.7" y1="774.0" x2="1233.8" y2="776.3" stroke="#8cb5b8" stroke-width="8.5" stroke-linecap="round"/><circle cx="117.5" cy="721.1" r="13.0" fill="url(#gP)"/><circle cx="240.7" cy="775.7" r="13.0" fill="url(#gP)"/><circle cx="322.3" cy="720.0" r="13.0" fill="url(#gP)"/><circle cx="436.7" cy="775.7" r="13.0" fill="url(#gP)"/><circle cx="530.6" cy="720.2" r="13.0" fill="url(#gP)"/><circle cx="637.6" cy="774.2" r="13.0" fill="url(#gP)"/><circle cx="732.4" cy="721.5" r="13.0" fill="url(#gP)"/><circle cx="831.8" cy="775.7" r="13.0" fill="url(#gP)"/><circle cx="941.7" cy="723.0" r="13.0" fill="url(#gP)"/><circle cx="1030.5" cy="781.0" r="13.0" fill="url(#gP)"/><circle cx="1151.2" cy="722.1" r="13.0" fill="url(#gP)"/><circle cx="1233.8" cy="776.3" r="13.0" fill="url(#gP)"/><line x1="77.0" y1="715.0" x2="158.7" y2="719.7" stroke="#8cb5b8" stroke-width="8.7" stroke-linecap="round"/><line x1="158.7" y1="719.7" x2="208.7" y2="773.3" stroke="#8cb5b8" stroke-width="8.7" stroke-linecap="round"/><line x1="208.7" y1="773.3" x2="284.8" y2="776.8" stroke="#8cb5b8" stroke-width="8.7" stroke-linecap="round"/><line x1="295.9" y1="713.8" x2="368.3" y2="718.6" stroke="#8cb5b8" stroke-width="8.7" stroke-linecap="round"/><line x1="368.3" y1="718.6" x2="418.2" y2="773.3" stroke="#8cb5b8" stroke-width="8.7" stroke-linecap="round"/><line x1="418.2" y1="773.3" x2="487.4" y2="776.6" stroke="#8cb5b8" stroke-width="8.7" stroke-linecap="round"/><line x1="518.6" y1="714.0" x2="584.6" y2="717.0" stroke="#8cb5b8" stroke-width="8.7" stroke-linecap="round"/><line x1="584.6" y1="717.0" x2="632.9" y2="771.7" stroke="#8cb5b8" stroke-width="8.7" stroke-linecap="round"/><line x1="632.9" y1="771.7" x2="692.4" y2="776.6" stroke="#8cb5b8" stroke-width="8.7" stroke-linecap="round"/><line x1="734.3" y1="715.4" x2="792.2" y2="720.2" stroke="#8cb5b8" stroke-width="8.7" stroke-linecap="round"/><line x1="792.2" y1="720.2" x2="840.5" y2="773.3" stroke="#8cb5b8" stroke-width="8.7" stroke-linecap="round"/><line x1="840.5" y1="773.3" x2="895.2" y2="775.0" stroke="#8cb5b8" stroke-width="8.7" stroke-linecap="round"/><line x1="958.0" y1="717.0" x2="1009.4" y2="721.8" stroke="#8cb5b8" stroke-width="8.7" stroke-linecap="round"/><line x1="1009.4" y1="721.8" x2="1053.0" y2="779.0" stroke="#8cb5b8" stroke-width="8.7" stroke-linecap="round"/><line x1="1053.0" y1="779.0" x2="1099.5" y2="778.2" stroke="#8cb5b8" stroke-width="8.7" stroke-linecap="round"/><line x1="1182.0" y1="716.0" x2="1224.0" y2="719.4" stroke="#8cb5b8" stroke-width="8.7" stroke-linecap="round"/><line x1="1224.0" y1="719.4" x2="1270.3" y2="774.0" stroke="#8cb5b8" stroke-width="8.7" stroke-linecap="round"/><line x1="1270.3" y1="774.0" x2="1306.7" y2="774.0" stroke="#8cb5b8" stroke-width="8.7" stroke-linecap="round"/><circle cx="158.7" cy="719.7" r="13.7" fill="url(#gP)"/><circle cx="284.8" cy="776.8" r="13.7" fill="url(#gP)"/><circle cx="368.3" cy="718.6" r="13.7" fill="url(#gP)"/><circle cx="487.4" cy="776.6" r="13.7" fill="url(#gP)"/><circle cx="584.6" cy="717.0" r="13.7" fill="url(#gP)"/><circle cx="692.4" cy="776.6" r="13.7" fill="url(#gP)"/><circle cx="792.2" cy="720.2" r="13.7" fill="url(#gP)"/><circle cx="895.2" cy="775.0" r="13.7" fill="url(#gP)"/><circle cx="1009.4" cy="721.8" r="13.7" fill="url(#gP)"/><circle cx="1099.5" cy="778.2" r="13.7" fill="url(#gP)"/><circle cx="1224.0" cy="719.4" r="13.7" fill="url(#gP)"/><circle cx="1306.7" cy="774.0" r="13.7" fill="url(#gP)"/><circle cx="77.0" cy="715.0" r="13.9" fill="url(#gP)"/><circle cx="208.7" cy="773.3" r="13.9" fill="url(#gP)"/><circle cx="295.9" cy="713.8" r="13.9" fill="url(#gP)"/><circle cx="418.2" cy="773.3" r="13.9" fill="url(#gP)"/><circle cx="518.6" cy="714.0" r="13.9" fill="url(#gP)"/><circle cx="632.9" cy="771.7" r="13.9" fill="url(#gP)"/><circle cx="734.3" cy="715.4" r="13.9" fill="url(#gP)"/><circle cx="840.5" cy="773.3" r="13.9" fill="url(#gP)"/><circle cx="958.0" cy="717.0" r="13.9" fill="url(#gP)"/><circle cx="1053.0" cy="779.0" r="13.9" fill="url(#gP)"/><circle cx="1182.0" cy="716.0" r="13.9" fill="url(#gP)"/><circle cx="1270.3" cy="774.0" r="13.9" fill="url(#gP)"/></g>
<g filter="url(#bl)"><circle cx="370.5" cy="876.8" r="9.4" fill="url(#gP)"/><circle cx="796.4" cy="876.8" r="9.4" fill="url(#gP)"/><line x1="464.3" y1="842.7" x2="502.0" y2="880.1" stroke="#8cb5b8" stroke-width="7.2" stroke-linecap="round"/><line x1="768.4" y1="841.6" x2="800.8" y2="879.0" stroke="#8cb5b8" stroke-width="7.2" stroke-linecap="round"/><circle cx="464.3" cy="842.7" r="9.8" fill="url(#gP)"/><circle cx="768.4" cy="841.6" r="9.8" fill="url(#gP)"/><line x1="541.5" y1="881.9" x2="502.0" y2="880.1" stroke="#8cb5b8" stroke-width="7.3" stroke-linecap="round"/><line x1="845.2" y1="880.7" x2="800.8" y2="879.0" stroke="#8cb5b8" stroke-width="7.3" stroke-linecap="round"/><line x1="845.2" y1="880.7" x2="883.9" y2="843.7" stroke="#8cb5b8" stroke-width="7.3" stroke-linecap="round"/><line x1="932.1" y1="843.2" x2="883.9" y2="843.7" stroke="#8cb5b8" stroke-width="7.3" stroke-linecap="round"/><line x1="1092.6" y1="840.8" x2="1042.1" y2="841.5" stroke="#8cb5b8" stroke-width="7.3" stroke-linecap="round"/><circle cx="354.2" cy="879.0" r="9.8" fill="url(#gP)"/><circle cx="502.0" cy="880.1" r="9.8" fill="url(#gP)"/><circle cx="800.8" cy="879.0" r="9.8" fill="url(#gP)"/><circle cx="883.9" cy="843.7" r="9.8" fill="url(#gP)"/><circle cx="949.9" cy="881.3" r="9.8" fill="url(#gP)"/><circle cx="1042.1" cy="841.5" r="9.8" fill="url(#gP)"/><circle cx="1102.5" cy="876.8" r="9.8" fill="url(#gP)"/><line x1="294.0" y1="842.5" x2="336.2" y2="881.4" stroke="#8cb5b8" stroke-width="7.4" stroke-linecap="round"/><line x1="402.0" y1="843.2" x2="452.3" y2="843.2" stroke="#8cb5b8" stroke-width="7.4" stroke-linecap="round"/><line x1="452.3" y1="843.2" x2="491.6" y2="882.6" stroke="#8cb5b8" stroke-width="7.4" stroke-linecap="round"/><line x1="491.6" y1="882.6" x2="541.5" y2="881.9" stroke="#8cb5b8" stroke-width="7.4" stroke-linecap="round"/><line x1="565.2" y1="842.0" x2="614.7" y2="842.0" stroke="#8cb5b8" stroke-width="7.4" stroke-linecap="round"/><line x1="614.7" y1="842.0" x2="651.4" y2="881.4" stroke="#8cb5b8" stroke-width="7.4" stroke-linecap="round"/><line x1="651.4" y1="881.4" x2="695.6" y2="880.7" stroke="#8cb5b8" stroke-width="7.4" stroke-linecap="round"/><line x1="725.6" y1="843.2" x2="771.6" y2="842.0" stroke="#8cb5b8" stroke-width="7.4" stroke-linecap="round"/><line x1="771.6" y1="842.0" x2="805.7" y2="881.4" stroke="#8cb5b8" stroke-width="7.4" stroke-linecap="round"/><line x1="805.7" y1="881.4" x2="845.2" y2="880.7" stroke="#8cb5b8" stroke-width="7.4" stroke-linecap="round"/><line x1="893.1" y1="844.3" x2="932.1" y2="843.2" stroke="#8cb5b8" stroke-width="7.4" stroke-linecap="round"/><line x1="932.1" y1="843.2" x2="962.5" y2="883.8" stroke="#8cb5b8" stroke-width="7.4" stroke-linecap="round"/><line x1="1059.3" y1="842.0" x2="1092.6" y2="840.8" stroke="#8cb5b8" stroke-width="7.4" stroke-linecap="round"/><line x1="1092.6" y1="840.8" x2="1122.8" y2="879.1" stroke="#8cb5b8" stroke-width="7.4" stroke-linecap="round"/><circle cx="294.0" cy="842.5" r="10.2" fill="url(#gP)"/><circle cx="452.3" cy="843.2" r="10.2" fill="url(#gP)"/><circle cx="541.5" cy="881.9" r="10.2" fill="url(#gP)"/><circle cx="614.7" cy="842.0" r="10.2" fill="url(#gP)"/><circle cx="695.6" cy="880.7" r="10.2" fill="url(#gP)"/><circle cx="771.6" cy="842.0" r="10.2" fill="url(#gP)"/><circle cx="845.2" cy="880.7" r="10.2" fill="url(#gP)"/><circle cx="932.1" cy="843.2" r="10.2" fill="url(#gP)"/><circle cx="1092.6" cy="840.8" r="10.2" fill="url(#gP)"/><line x1="373.1" y1="883.3" x2="336.2" y2="881.4" stroke="#8cb5b8" stroke-width="7.4" stroke-linecap="round"/><line x1="373.1" y1="883.3" x2="402.0" y2="843.2" stroke="#8cb5b8" stroke-width="7.4" stroke-linecap="round"/><line x1="439.0" y1="843.8" x2="402.0" y2="843.2" stroke="#8cb5b8" stroke-width="7.4" stroke-linecap="round"/><line x1="532.9" y1="884.5" x2="491.6" y2="882.6" stroke="#8cb5b8" stroke-width="7.4" stroke-linecap="round"/><line x1="532.9" y1="884.5" x2="565.2" y2="842.0" stroke="#8cb5b8" stroke-width="7.4" stroke-linecap="round"/><line x1="610.0" y1="842.6" x2="565.2" y2="842.0" stroke="#8cb5b8" stroke-width="7.4" stroke-linecap="round"/><line x1="695.1" y1="883.3" x2="651.4" y2="881.4" stroke="#8cb5b8" stroke-width="7.4" stroke-linecap="round"/><line x1="695.1" y1="883.3" x2="725.6" y2="843.2" stroke="#8cb5b8" stroke-width="7.4" stroke-linecap="round"/><line x1="775.1" y1="842.6" x2="725.6" y2="843.2" stroke="#8cb5b8" stroke-width="7.4" stroke-linecap="round"/><line x1="852.6" y1="883.3" x2="805.7" y2="881.4" stroke="#8cb5b8" stroke-width="7.4" stroke-linecap="round"/><line x1="852.6" y1="883.3" x2="893.1" y2="844.3" stroke="#8cb5b8" stroke-width="7.4" stroke-linecap="round"/><line x1="944.0" y1="843.8" x2="893.1" y2="844.3" stroke="#8cb5b8" stroke-width="7.4" stroke-linecap="round"/><line x1="1015.2" y1="884.5" x2="962.5" y2="883.8" stroke="#8cb5b8" stroke-width="7.4" stroke-linecap="round"/><line x1="1015.2" y1="884.5" x2="1059.3" y2="842.0" stroke="#8cb5b8" stroke-width="7.4" stroke-linecap="round"/><line x1="1113.0" y1="841.3" x2="1059.3" y2="842.0" stroke="#8cb5b8" stroke-width="7.4" stroke-linecap="round"/><circle cx="336.2" cy="881.4" r="10.3" fill="url(#gP)"/><circle cx="402.0" cy="843.2" r="10.3" fill="url(#gP)"/><circle cx="491.6" cy="882.6" r="10.3" fill="url(#gP)"/><circle cx="565.2" cy="842.0" r="10.3" fill="url(#gP)"/><circle cx="651.4" cy="881.4" r="10.3" fill="url(#gP)"/><circle cx="725.6" cy="843.2" r="10.3" fill="url(#gP)"/><circle cx="805.7" cy="881.4" r="10.3" fill="url(#gP)"/><circle cx="893.1" cy="844.3" r="10.3" fill="url(#gP)"/><circle cx="962.5" cy="883.8" r="10.3" fill="url(#gP)"/><circle cx="1059.3" cy="842.0" r="10.3" fill="url(#gP)"/><circle cx="1122.8" cy="879.1" r="10.3" fill="url(#gP)"/><line x1="272.4" y1="843.1" x2="316.3" y2="884.1" stroke="#8cb5b8" stroke-width="7.6" stroke-linecap="round"/><line x1="316.3" y1="884.1" x2="373.1" y2="883.3" stroke="#8cb5b8" stroke-width="7.6" stroke-linecap="round"/><line x1="385.6" y1="843.8" x2="439.0" y2="843.8" stroke="#8cb5b8" stroke-width="7.6" stroke-linecap="round"/><line x1="439.0" y1="843.8" x2="480.1" y2="885.3" stroke="#8cb5b8" stroke-width="7.6" stroke-linecap="round"/><line x1="480.1" y1="885.3" x2="532.9" y2="884.5" stroke="#8cb5b8" stroke-width="7.6" stroke-linecap="round"/><line x1="557.7" y1="842.5" x2="610.0" y2="842.6" stroke="#8cb5b8" stroke-width="7.6" stroke-linecap="round"/><line x1="610.0" y1="842.6" x2="648.5" y2="884.1" stroke="#8cb5b8" stroke-width="7.6" stroke-linecap="round"/><line x1="648.5" y1="884.1" x2="695.1" y2="883.3" stroke="#8cb5b8" stroke-width="7.6" stroke-linecap="round"/><line x1="726.7" y1="843.8" x2="775.1" y2="842.6" stroke="#8cb5b8" stroke-width="7.6" stroke-linecap="round"/><line x1="775.1" y1="842.6" x2="811.2" y2="884.1" stroke="#8cb5b8" stroke-width="7.6" stroke-linecap="round"/><line x1="811.2" y1="884.1" x2="852.6" y2="883.3" stroke="#8cb5b8" stroke-width="7.6" stroke-linecap="round"/><line x1="903.3" y1="845.0" x2="944.0" y2="843.8" stroke="#8cb5b8" stroke-width="7.6" stroke-linecap="round"/><line x1="944.0" y1="843.8" x2="976.4" y2="886.6" stroke="#8cb5b8" stroke-width="7.6" stroke-linecap="round"/><line x1="976.4" y1="886.6" x2="1015.2" y2="884.5" stroke="#8cb5b8" stroke-width="7.6" stroke-linecap="round"/><line x1="1078.5" y1="842.5" x2="1113.0" y2="841.3" stroke="#8cb5b8" stroke-width="7.6" stroke-linecap="round"/><line x1="1113.0" y1="841.3" x2="1145.4" y2="881.6" stroke="#8cb5b8" stroke-width="7.6" stroke-linecap="round"/><circle cx="272.4" cy="843.1" r="10.8" fill="url(#gP)"/><circle cx="373.1" cy="883.3" r="10.8" fill="url(#gP)"/><circle cx="439.0" cy="843.8" r="10.8" fill="url(#gP)"/><circle cx="532.9" cy="884.5" r="10.8" fill="url(#gP)"/><circle cx="610.0" cy="842.6" r="10.8" fill="url(#gP)"/><circle cx="695.1" cy="883.3" r="10.8" fill="url(#gP)"/><circle cx="775.1" cy="842.6" r="10.8" fill="url(#gP)"/><circle cx="852.6" cy="883.3" r="10.8" fill="url(#gP)"/><circle cx="944.0" cy="843.8" r="10.8" fill="url(#gP)"/><circle cx="1015.2" cy="884.5" r="10.8" fill="url(#gP)"/><circle cx="1113.0" cy="841.3" r="10.8" fill="url(#gP)"/><line x1="354.7" y1="886.2" x2="316.3" y2="884.1" stroke="#8cb5b8" stroke-width="7.7" stroke-linecap="round"/><line x1="354.7" y1="886.2" x2="385.6" y2="843.8" stroke="#8cb5b8" stroke-width="7.7" stroke-linecap="round"/><line x1="424.2" y1="844.5" x2="385.6" y2="843.8" stroke="#8cb5b8" stroke-width="7.7" stroke-linecap="round"/><line x1="523.3" y1="887.4" x2="480.1" y2="885.3" stroke="#8cb5b8" stroke-width="7.7" stroke-linecap="round"/><line x1="523.3" y1="887.4" x2="557.7" y2="842.5" stroke="#8cb5b8" stroke-width="7.7" stroke-linecap="round"/><line x1="604.7" y1="843.2" x2="557.7" y2="842.5" stroke="#8cb5b8" stroke-width="7.7" stroke-linecap="round"/><line x1="694.5" y1="886.2" x2="648.5" y2="884.1" stroke="#8cb5b8" stroke-width="7.7" stroke-linecap="round"/><line x1="694.5" y1="886.2" x2="726.7" y2="843.8" stroke="#8cb5b8" stroke-width="7.7" stroke-linecap="round"/><line x1="779.0" y1="843.2" x2="726.7" y2="843.8" stroke="#8cb5b8" stroke-width="7.7" stroke-linecap="round"/><line x1="860.8" y1="886.2" x2="811.2" y2="884.1" stroke="#8cb5b8" stroke-width="7.7" stroke-linecap="round"/><line x1="860.8" y1="886.2" x2="903.3" y2="845.0" stroke="#8cb5b8" stroke-width="7.7" stroke-linecap="round"/><line x1="957.3" y1="844.5" x2="903.3" y2="845.0" stroke="#8cb5b8" stroke-width="7.7" stroke-linecap="round"/><line x1="1032.5" y1="887.4" x2="976.4" y2="886.6" stroke="#8cb5b8" stroke-width="7.7" stroke-linecap="round"/><line x1="1032.5" y1="887.4" x2="1078.5" y2="842.5" stroke="#8cb5b8" stroke-width="7.7" stroke-linecap="round"/><line x1="1135.6" y1="841.8" x2="1078.5" y2="842.5" stroke="#8cb5b8" stroke-width="7.7" stroke-linecap="round"/><circle cx="316.3" cy="884.1" r="10.9" fill="url(#gP)"/><circle cx="385.6" cy="843.8" r="10.9" fill="url(#gP)"/><circle cx="480.1" cy="885.3" r="10.9" fill="url(#gP)"/><circle cx="557.7" cy="842.5" r="10.9" fill="url(#gP)"/><circle cx="648.5" cy="884.1" r="10.9" fill="url(#gP)"/><circle cx="726.7" cy="843.8" r="10.9" fill="url(#gP)"/><circle cx="811.2" cy="884.1" r="10.9" fill="url(#gP)"/><circle cx="903.3" cy="845.0" r="10.9" fill="url(#gP)"/><circle cx="976.4" cy="886.6" r="10.9" fill="url(#gP)"/><circle cx="1078.5" cy="842.5" r="10.9" fill="url(#gP)"/><circle cx="1145.4" cy="881.6" r="10.9" fill="url(#gP)"/><line x1="248.4" y1="843.7" x2="294.1" y2="887.1" stroke="#8cb5b8" stroke-width="7.8" stroke-linecap="round"/><line x1="294.1" y1="887.1" x2="354.7" y2="886.2" stroke="#8cb5b8" stroke-width="7.8" stroke-linecap="round"/><line x1="367.4" y1="844.4" x2="424.2" y2="844.5" stroke="#8cb5b8" stroke-width="7.8" stroke-linecap="round"/><line x1="424.2" y1="844.5" x2="467.2" y2="888.3" stroke="#8cb5b8" stroke-width="7.8" stroke-linecap="round"/><line x1="467.2" y1="888.3" x2="523.3" y2="887.4" stroke="#8cb5b8" stroke-width="7.8" stroke-linecap="round"/><line x1="549.2" y1="843.1" x2="604.7" y2="843.2" stroke="#8cb5b8" stroke-width="7.8" stroke-linecap="round"/><line x1="604.7" y1="843.2" x2="645.3" y2="887.1" stroke="#8cb5b8" stroke-width="7.8" stroke-linecap="round"/><line x1="645.3" y1="887.1" x2="694.5" y2="886.2" stroke="#8cb5b8" stroke-width="7.8" stroke-linecap="round"/><line x1="727.9" y1="844.4" x2="779.0" y2="843.2" stroke="#8cb5b8" stroke-width="7.8" stroke-linecap="round"/><line x1="779.0" y1="843.2" x2="817.3" y2="887.1" stroke="#8cb5b8" stroke-width="7.8" stroke-linecap="round"/><line x1="817.3" y1="887.1" x2="860.8" y2="886.2" stroke="#8cb5b8" stroke-width="7.8" stroke-linecap="round"/><line x1="914.6" y1="845.8" x2="957.3" y2="844.5" stroke="#8cb5b8" stroke-width="7.8" stroke-linecap="round"/><line x1="957.3" y1="844.5" x2="991.9" y2="889.7" stroke="#8cb5b8" stroke-width="7.8" stroke-linecap="round"/><line x1="991.9" y1="889.7" x2="1032.5" y2="887.4" stroke="#8cb5b8" stroke-width="7.8" stroke-linecap="round"/><line x1="1099.9" y1="843.1" x2="1135.6" y2="841.8" stroke="#8cb5b8" stroke-width="7.8" stroke-linecap="round"/><line x1="1135.6" y1="841.8" x2="1170.6" y2="884.4" stroke="#8cb5b8" stroke-width="7.8" stroke-linecap="round"/><circle cx="248.4" cy="843.7" r="11.4" fill="url(#gP)"/><circle cx="354.7" cy="886.2" r="11.4" fill="url(#gP)"/><circle cx="424.2" cy="844.5" r="11.4" fill="url(#gP)"/><circle cx="523.3" cy="887.4" r="11.4" fill="url(#gP)"/><circle cx="604.7" cy="843.2" r="11.4" fill="url(#gP)"/><circle cx="694.5" cy="886.2" r="11.4" fill="url(#gP)"/><circle cx="779.0" cy="843.2" r="11.4" fill="url(#gP)"/><circle cx="860.8" cy="886.2" r="11.4" fill="url(#gP)"/><circle cx="957.3" cy="844.5" r="11.4" fill="url(#gP)"/><circle cx="1032.5" cy="887.4" r="11.4" fill="url(#gP)"/><circle cx="1135.6" cy="841.8" r="11.4" fill="url(#gP)"/><line x1="334.1" y1="889.3" x2="294.1" y2="887.1" stroke="#8cb5b8" stroke-width="7.9" stroke-linecap="round"/><line x1="334.1" y1="889.3" x2="367.4" y2="844.4" stroke="#8cb5b8" stroke-width="7.9" stroke-linecap="round"/><line x1="407.7" y1="845.2" x2="367.4" y2="844.4" stroke="#8cb5b8" stroke-width="7.9" stroke-linecap="round"/><line x1="512.7" y1="890.7" x2="467.2" y2="888.3" stroke="#8cb5b8" stroke-width="7.9" stroke-linecap="round"/><line x1="512.7" y1="890.7" x2="549.2" y2="843.1" stroke="#8cb5b8" stroke-width="7.9" stroke-linecap="round"/><line x1="598.8" y1="843.8" x2="549.2" y2="843.1" stroke="#8cb5b8" stroke-width="7.9" stroke-linecap="round"/><line x1="693.9" y1="889.3" x2="645.3" y2="887.1" stroke="#8cb5b8" stroke-width="7.9" stroke-linecap="round"/><line x1="693.9" y1="889.3" x2="727.9" y2="844.4" stroke="#8cb5b8" stroke-width="7.9" stroke-linecap="round"/><line x1="783.3" y1="843.8" x2="727.9" y2="844.4" stroke="#8cb5b8" stroke-width="7.9" stroke-linecap="round"/><line x1="870.0" y1="889.3" x2="817.3" y2="887.1" stroke="#8cb5b8" stroke-width="7.9" stroke-linecap="round"/><line x1="870.0" y1="889.3" x2="914.6" y2="845.8" stroke="#8cb5b8" stroke-width="7.9" stroke-linecap="round"/><line x1="972.2" y1="845.2" x2="914.6" y2="845.8" stroke="#8cb5b8" stroke-width="7.9" stroke-linecap="round"/><line x1="1051.7" y1="890.7" x2="991.9" y2="889.7" stroke="#8cb5b8" stroke-width="7.9" stroke-linecap="round"/><line x1="1051.7" y1="890.7" x2="1099.9" y2="843.1" stroke="#8cb5b8" stroke-width="7.9" stroke-linecap="round"/><line x1="1161.0" y1="842.4" x2="1099.9" y2="843.1" stroke="#8cb5b8" stroke-width="7.9" stroke-linecap="round"/><circle cx="294.1" cy="887.1" r="11.5" fill="url(#gP)"/><circle cx="367.4" cy="844.4" r="11.5" fill="url(#gP)"/><circle cx="467.2" cy="888.3" r="11.5" fill="url(#gP)"/><circle cx="549.2" cy="843.1" r="11.5" fill="url(#gP)"/><circle cx="645.3" cy="887.1" r="11.5" fill="url(#gP)"/><circle cx="727.9" cy="844.4" r="11.5" fill="url(#gP)"/><circle cx="817.3" cy="887.1" r="11.5" fill="url(#gP)"/><circle cx="914.6" cy="845.8" r="11.5" fill="url(#gP)"/><circle cx="991.9" cy="889.7" r="11.5" fill="url(#gP)"/><circle cx="1099.9" cy="843.1" r="11.5" fill="url(#gP)"/><circle cx="1170.6" cy="884.4" r="11.5" fill="url(#gP)"/><line x1="153.2" y1="843.4" x2="221.5" y2="844.4" stroke="#8cb5b8" stroke-width="8.1" stroke-linecap="round"/><line x1="221.5" y1="844.4" x2="269.1" y2="890.4" stroke="#8cb5b8" stroke-width="8.1" stroke-linecap="round"/><line x1="269.1" y1="890.4" x2="334.1" y2="889.3" stroke="#8cb5b8" stroke-width="8.1" stroke-linecap="round"/><line x1="346.9" y1="845.2" x2="407.7" y2="845.2" stroke="#8cb5b8" stroke-width="8.1" stroke-linecap="round"/><line x1="407.7" y1="845.2" x2="452.8" y2="891.8" stroke="#8cb5b8" stroke-width="8.1" stroke-linecap="round"/><line x1="452.8" y1="891.8" x2="512.7" y2="890.7" stroke="#8cb5b8" stroke-width="8.1" stroke-linecap="round"/><line x1="539.8" y1="843.8" x2="598.8" y2="843.8" stroke="#8cb5b8" stroke-width="8.1" stroke-linecap="round"/><line x1="598.8" y1="843.8" x2="641.6" y2="890.4" stroke="#8cb5b8" stroke-width="8.1" stroke-linecap="round"/><line x1="641.6" y1="890.4" x2="693.9" y2="889.3" stroke="#8cb5b8" stroke-width="8.1" stroke-linecap="round"/><line x1="729.3" y1="845.2" x2="783.3" y2="843.8" stroke="#8cb5b8" stroke-width="8.1" stroke-linecap="round"/><line x1="783.3" y1="843.8" x2="824.1" y2="890.4" stroke="#8cb5b8" stroke-width="8.1" stroke-linecap="round"/><line x1="824.1" y1="890.4" x2="870.0" y2="889.3" stroke="#8cb5b8" stroke-width="8.1" stroke-linecap="round"/><line x1="927.3" y1="846.6" x2="972.2" y2="845.2" stroke="#8cb5b8" stroke-width="8.1" stroke-linecap="round"/><line x1="972.2" y1="845.2" x2="1009.3" y2="893.2" stroke="#8cb5b8" stroke-width="8.1" stroke-linecap="round"/><line x1="1009.3" y1="893.2" x2="1051.7" y2="890.7" stroke="#8cb5b8" stroke-width="8.1" stroke-linecap="round"/><line x1="1123.8" y1="843.8" x2="1161.0" y2="842.4" stroke="#8cb5b8" stroke-width="8.1" stroke-linecap="round"/><line x1="1161.0" y1="842.4" x2="1198.8" y2="887.6" stroke="#8cb5b8" stroke-width="8.1" stroke-linecap="round"/><circle cx="221.5" cy="844.4" r="12.1" fill="url(#gP)"/><circle cx="334.1" cy="889.3" r="12.1" fill="url(#gP)"/><circle cx="407.7" cy="845.2" r="12.1" fill="url(#gP)"/><circle cx="512.7" cy="890.7" r="12.1" fill="url(#gP)"/><circle cx="598.8" cy="843.8" r="12.1" fill="url(#gP)"/><circle cx="693.9" cy="889.3" r="12.1" fill="url(#gP)"/><circle cx="783.3" cy="843.8" r="12.1" fill="url(#gP)"/><circle cx="870.0" cy="889.3" r="12.1" fill="url(#gP)"/><circle cx="972.2" cy="845.2" r="12.1" fill="url(#gP)"/><circle cx="1051.7" cy="890.7" r="12.1" fill="url(#gP)"/><circle cx="1161.0" cy="842.4" r="12.1" fill="url(#gP)"/><line x1="191.3" y1="845.1" x2="153.2" y2="843.4" stroke="#8cb5b8" stroke-width="8.2" stroke-linecap="round"/><line x1="310.9" y1="892.9" x2="269.1" y2="890.4" stroke="#8cb5b8" stroke-width="8.2" stroke-linecap="round"/><line x1="310.9" y1="892.9" x2="346.9" y2="845.2" stroke="#8cb5b8" stroke-width="8.2" stroke-linecap="round"/><line x1="389.1" y1="846.1" x2="346.9" y2="845.2" stroke="#8cb5b8" stroke-width="8.2" stroke-linecap="round"/><line x1="500.6" y1="894.3" x2="452.8" y2="891.8" stroke="#8cb5b8" stroke-width="8.2" stroke-linecap="round"/><line x1="500.6" y1="894.3" x2="539.8" y2="843.8" stroke="#8cb5b8" stroke-width="8.2" stroke-linecap="round"/><line x1="592.1" y1="844.6" x2="539.8" y2="843.8" stroke="#8cb5b8" stroke-width="8.2" stroke-linecap="round"/><line x1="693.2" y1="892.9" x2="641.6" y2="890.4" stroke="#8cb5b8" stroke-width="8.2" stroke-linecap="round"/><line x1="693.2" y1="892.9" x2="729.3" y2="845.2" stroke="#8cb5b8" stroke-width="8.2" stroke-linecap="round"/><line x1="788.2" y1="844.6" x2="729.3" y2="845.2" stroke="#8cb5b8" stroke-width="8.2" stroke-linecap="round"/><line x1="880.3" y1="892.9" x2="824.1" y2="890.4" stroke="#8cb5b8" stroke-width="8.2" stroke-linecap="round"/><line x1="880.3" y1="892.9" x2="927.3" y2="846.6" stroke="#8cb5b8" stroke-width="8.2" stroke-linecap="round"/><line x1="988.9" y1="846.1" x2="927.3" y2="846.6" stroke="#8cb5b8" stroke-width="8.2" stroke-linecap="round"/><line x1="1073.4" y1="894.3" x2="1009.3" y2="893.2" stroke="#8cb5b8" stroke-width="8.2" stroke-linecap="round"/><line x1="1073.4" y1="894.3" x2="1123.8" y2="843.8" stroke="#8cb5b8" stroke-width="8.2" stroke-linecap="round"/><line x1="1189.5" y1="843.1" x2="1123.8" y2="843.8" stroke="#8cb5b8" stroke-width="8.2" stroke-linecap="round"/><circle cx="153.2" cy="843.4" r="12.2" fill="url(#gP)"/><circle cx="269.1" cy="890.4" r="12.2" fill="url(#gP)"/><circle cx="346.9" cy="845.2" r="12.2" fill="url(#gP)"/><circle cx="452.8" cy="891.8" r="12.2" fill="url(#gP)"/><circle cx="539.8" cy="843.8" r="12.2" fill="url(#gP)"/><circle cx="641.6" cy="890.4" r="12.2" fill="url(#gP)"/><circle cx="729.3" cy="845.2" r="12.2" fill="url(#gP)"/><circle cx="824.1" cy="890.4" r="12.2" fill="url(#gP)"/><circle cx="927.3" cy="846.6" r="12.2" fill="url(#gP)"/><circle cx="1009.3" cy="893.2" r="12.2" fill="url(#gP)"/><circle cx="1123.8" cy="843.8" r="12.2" fill="url(#gP)"/><circle cx="1198.8" cy="887.6" r="12.2" fill="url(#gP)"/><line x1="117.5" y1="844.2" x2="191.3" y2="845.1" stroke="#8cb5b8" stroke-width="8.4" stroke-linecap="round"/><line x1="191.3" y1="845.1" x2="241.0" y2="894.2" stroke="#8cb5b8" stroke-width="8.4" stroke-linecap="round"/><line x1="241.0" y1="894.2" x2="310.9" y2="892.9" stroke="#8cb5b8" stroke-width="8.4" stroke-linecap="round"/><line x1="323.8" y1="846.0" x2="389.1" y2="846.1" stroke="#8cb5b8" stroke-width="8.4" stroke-linecap="round"/><line x1="389.1" y1="846.1" x2="436.5" y2="895.6" stroke="#8cb5b8" stroke-width="8.4" stroke-linecap="round"/><line x1="436.5" y1="895.6" x2="500.6" y2="894.3" stroke="#8cb5b8" stroke-width="8.4" stroke-linecap="round"/><line x1="529.1" y1="844.5" x2="592.1" y2="844.6" stroke="#8cb5b8" stroke-width="8.4" stroke-linecap="round"/><line x1="592.1" y1="844.6" x2="637.6" y2="894.2" stroke="#8cb5b8" stroke-width="8.4" stroke-linecap="round"/><line x1="637.6" y1="894.2" x2="693.2" y2="892.9" stroke="#8cb5b8" stroke-width="8.4" stroke-linecap="round"/><line x1="730.9" y1="846.0" x2="788.2" y2="844.6" stroke="#8cb5b8" stroke-width="8.4" stroke-linecap="round"/><line x1="788.2" y1="844.6" x2="831.8" y2="894.2" stroke="#8cb5b8" stroke-width="8.4" stroke-linecap="round"/><line x1="831.8" y1="894.2" x2="880.3" y2="892.9" stroke="#8cb5b8" stroke-width="8.4" stroke-linecap="round"/><line x1="941.7" y1="847.5" x2="988.9" y2="846.1" stroke="#8cb5b8" stroke-width="8.4" stroke-linecap="round"/><line x1="988.9" y1="846.1" x2="1028.9" y2="897.2" stroke="#8cb5b8" stroke-width="8.4" stroke-linecap="round"/><line x1="1028.9" y1="897.2" x2="1073.4" y2="894.3" stroke="#8cb5b8" stroke-width="8.4" stroke-linecap="round"/><line x1="1150.8" y1="844.5" x2="1189.5" y2="843.1" stroke="#8cb5b8" stroke-width="8.4" stroke-linecap="round"/><line x1="1189.5" y1="843.1" x2="1230.7" y2="891.2" stroke="#8cb5b8" stroke-width="8.4" stroke-linecap="round"/><circle cx="191.3" cy="845.1" r="12.8" fill="url(#gP)"/><circle cx="310.9" cy="892.9" r="12.8" fill="url(#gP)"/><circle cx="389.1" cy="846.1" r="12.8" fill="url(#gP)"/><circle cx="500.6" cy="894.3" r="12.8" fill="url(#gP)"/><circle cx="592.1" cy="844.6" r="12.8" fill="url(#gP)"/><circle cx="693.2" cy="892.9" r="12.8" fill="url(#gP)"/><circle cx="788.2" cy="844.6" r="12.8" fill="url(#gP)"/><circle cx="880.3" cy="892.9" r="12.8" fill="url(#gP)"/><circle cx="988.9" cy="846.1" r="12.8" fill="url(#gP)"/><circle cx="1073.4" cy="894.3" r="12.8" fill="url(#gP)"/><circle cx="1189.5" cy="843.1" r="12.8" fill="url(#gP)"/><line x1="157.0" y1="846.0" x2="117.5" y2="844.2" stroke="#8cb5b8" stroke-width="8.5" stroke-linecap="round"/><line x1="284.6" y1="897.0" x2="241.0" y2="894.2" stroke="#8cb5b8" stroke-width="8.5" stroke-linecap="round"/><line x1="284.6" y1="897.0" x2="323.8" y2="846.0" stroke="#8cb5b8" stroke-width="8.5" stroke-linecap="round"/><line x1="368.0" y1="847.0" x2="323.8" y2="846.0" stroke="#8cb5b8" stroke-width="8.5" stroke-linecap="round"/><line x1="487.0" y1="898.5" x2="436.5" y2="895.6" stroke="#8cb5b8" stroke-width="8.5" stroke-linecap="round"/><line x1="487.0" y1="898.5" x2="529.1" y2="844.5" stroke="#8cb5b8" stroke-width="8.5" stroke-linecap="round"/><line x1="584.6" y1="845.4" x2="529.1" y2="844.5" stroke="#8cb5b8" stroke-width="8.5" stroke-linecap="round"/><line x1="692.4" y1="897.0" x2="637.6" y2="894.2" stroke="#8cb5b8" stroke-width="8.5" stroke-linecap="round"/><line x1="692.4" y1="897.0" x2="730.9" y2="846.0" stroke="#8cb5b8" stroke-width="8.5" stroke-linecap="round"/><line x1="793.8" y1="845.4" x2="730.9" y2="846.0" stroke="#8cb5b8" stroke-width="8.5" stroke-linecap="round"/><line x1="892.0" y1="897.0" x2="831.8" y2="894.2" stroke="#8cb5b8" stroke-width="8.5" stroke-linecap="round"/><line x1="892.0" y1="897.0" x2="941.7" y2="847.5" stroke="#8cb5b8" stroke-width="8.5" stroke-linecap="round"/><line x1="1007.8" y1="847.0" x2="941.7" y2="847.5" stroke="#8cb5b8" stroke-width="8.5" stroke-linecap="round"/><line x1="1098.0" y1="898.5" x2="1028.9" y2="897.2" stroke="#8cb5b8" stroke-width="8.5" stroke-linecap="round"/><line x1="1098.0" y1="898.5" x2="1150.8" y2="844.5" stroke="#8cb5b8" stroke-width="8.5" stroke-linecap="round"/><line x1="1221.8" y1="843.8" x2="1150.8" y2="844.5" stroke="#8cb5b8" stroke-width="8.5" stroke-linecap="round"/><line x1="1304.0" y1="895.3" x2="1230.7" y2="891.2" stroke="#8cb5b8" stroke-width="8.5" stroke-linecap="round"/><circle cx="117.5" cy="844.2" r="13.0" fill="url(#gP)"/><circle cx="241.0" cy="894.2" r="13.0" fill="url(#gP)"/><circle cx="323.8" cy="846.0" r="13.0" fill="url(#gP)"/><circle cx="436.5" cy="895.6" r="13.0" fill="url(#gP)"/><circle cx="529.1" cy="844.5" r="13.0" fill="url(#gP)"/><circle cx="637.6" cy="894.2" r="13.0" fill="url(#gP)"/><circle cx="730.9" cy="846.0" r="13.0" fill="url(#gP)"/><circle cx="831.8" cy="894.2" r="13.0" fill="url(#gP)"/><circle cx="941.7" cy="847.5" r="13.0" fill="url(#gP)"/><circle cx="1028.9" cy="897.2" r="13.0" fill="url(#gP)"/><circle cx="1150.8" cy="844.5" r="13.0" fill="url(#gP)"/><circle cx="1230.7" cy="891.2" r="13.0" fill="url(#gP)"/><line x1="77.0" y1="845.0" x2="157.0" y2="846.0" stroke="#8cb5b8" stroke-width="8.7" stroke-linecap="round"/><line x1="157.0" y1="846.0" x2="209.0" y2="898.5" stroke="#8cb5b8" stroke-width="8.7" stroke-linecap="round"/><line x1="209.0" y1="898.5" x2="284.6" y2="897.0" stroke="#8cb5b8" stroke-width="8.7" stroke-linecap="round"/><line x1="297.5" y1="847.0" x2="368.0" y2="847.0" stroke="#8cb5b8" stroke-width="8.7" stroke-linecap="round"/><line x1="368.0" y1="847.0" x2="418.0" y2="900.0" stroke="#8cb5b8" stroke-width="8.7" stroke-linecap="round"/><line x1="418.0" y1="900.0" x2="487.0" y2="898.5" stroke="#8cb5b8" stroke-width="8.7" stroke-linecap="round"/><line x1="517.0" y1="845.4" x2="584.6" y2="845.4" stroke="#8cb5b8" stroke-width="8.7" stroke-linecap="round"/><line x1="584.6" y1="845.4" x2="632.9" y2="898.5" stroke="#8cb5b8" stroke-width="8.7" stroke-linecap="round"/><line x1="632.9" y1="898.5" x2="692.4" y2="897.0" stroke="#8cb5b8" stroke-width="8.7" stroke-linecap="round"/><line x1="732.7" y1="847.0" x2="793.8" y2="845.4" stroke="#8cb5b8" stroke-width="8.7" stroke-linecap="round"/><line x1="793.8" y1="845.4" x2="840.5" y2="898.5" stroke="#8cb5b8" stroke-width="8.7" stroke-linecap="round"/><line x1="840.5" y1="898.5" x2="892.0" y2="897.0" stroke="#8cb5b8" stroke-width="8.7" stroke-linecap="round"/><line x1="958.0" y1="848.6" x2="1007.8" y2="847.0" stroke="#8cb5b8" stroke-width="8.7" stroke-linecap="round"/><line x1="1007.8" y1="847.0" x2="1051.3" y2="901.7" stroke="#8cb5b8" stroke-width="8.7" stroke-linecap="round"/><line x1="1051.3" y1="901.7" x2="1098.0" y2="898.5" stroke="#8cb5b8" stroke-width="8.7" stroke-linecap="round"/><line x1="1181.6" y1="845.4" x2="1221.8" y2="843.8" stroke="#8cb5b8" stroke-width="8.7" stroke-linecap="round"/><line x1="1221.8" y1="843.8" x2="1267.0" y2="895.3" stroke="#8cb5b8" stroke-width="8.7" stroke-linecap="round"/><line x1="1267.0" y1="895.3" x2="1304.0" y2="895.3" stroke="#8cb5b8" stroke-width="8.7" stroke-linecap="round"/><circle cx="157.0" cy="846.0" r="13.7" fill="url(#gP)"/><circle cx="284.6" cy="897.0" r="13.7" fill="url(#gP)"/><circle cx="368.0" cy="847.0" r="13.7" fill="url(#gP)"/><circle cx="487.0" cy="898.5" r="13.7" fill="url(#gP)"/><circle cx="584.6" cy="845.4" r="13.7" fill="url(#gP)"/><circle cx="692.4" cy="897.0" r="13.7" fill="url(#gP)"/><circle cx="793.8" cy="845.4" r="13.7" fill="url(#gP)"/><circle cx="892.0" cy="897.0" r="13.7" fill="url(#gP)"/><circle cx="1007.8" cy="847.0" r="13.7" fill="url(#gP)"/><circle cx="1098.0" cy="898.5" r="13.7" fill="url(#gP)"/><circle cx="1221.8" cy="843.8" r="13.7" fill="url(#gP)"/><circle cx="1304.0" cy="895.3" r="13.7" fill="url(#gP)"/><circle cx="77.0" cy="845.0" r="13.9" fill="url(#gP)"/><circle cx="209.0" cy="898.5" r="13.9" fill="url(#gP)"/><circle cx="297.5" cy="847.0" r="13.9" fill="url(#gP)"/><circle cx="418.0" cy="900.0" r="13.9" fill="url(#gP)"/><circle cx="517.0" cy="845.4" r="13.9" fill="url(#gP)"/><circle cx="632.9" cy="898.5" r="13.9" fill="url(#gP)"/><circle cx="732.7" cy="847.0" r="13.9" fill="url(#gP)"/><circle cx="840.5" cy="898.5" r="13.9" fill="url(#gP)"/><circle cx="958.0" cy="848.6" r="13.9" fill="url(#gP)"/><circle cx="1051.3" cy="901.7" r="13.9" fill="url(#gP)"/><circle cx="1181.6" cy="845.4" r="13.9" fill="url(#gP)"/><circle cx="1267.0" cy="895.3" r="13.9" fill="url(#gP)"/></g>
<g filter="url(#bl)"><line x1="474.9" y1="925.4" x2="510.1" y2="962.9" stroke="#8cb5b8" stroke-width="7.2" stroke-linecap="round"/><line x1="774.1" y1="926.3" x2="806.5" y2="961.6" stroke="#8cb5b8" stroke-width="7.2" stroke-linecap="round"/><circle cx="474.9" cy="925.4" r="9.8" fill="url(#gP)"/><circle cx="774.1" cy="926.3" r="9.8" fill="url(#gP)"/><line x1="549.0" y1="966.3" x2="510.1" y2="962.9" stroke="#8cb5b8" stroke-width="7.3" stroke-linecap="round"/><line x1="852.4" y1="966.1" x2="806.5" y2="961.6" stroke="#8cb5b8" stroke-width="7.3" stroke-linecap="round"/><line x1="852.4" y1="966.1" x2="889.6" y2="928.6" stroke="#8cb5b8" stroke-width="7.3" stroke-linecap="round"/><line x1="939.3" y1="932.2" x2="889.6" y2="928.6" stroke="#8cb5b8" stroke-width="7.3" stroke-linecap="round"/><line x1="1098.7" y1="930.0" x2="1046.6" y2="926.4" stroke="#8cb5b8" stroke-width="7.3" stroke-linecap="round"/><circle cx="510.1" cy="962.9" r="9.8" fill="url(#gP)"/><circle cx="806.5" cy="961.6" r="9.8" fill="url(#gP)"/><circle cx="889.6" cy="928.6" r="9.8" fill="url(#gP)"/><circle cx="957.8" cy="962.6" r="9.8" fill="url(#gP)"/><circle cx="1046.6" cy="926.4" r="9.8" fill="url(#gP)"/><circle cx="1108.1" cy="959.3" r="9.8" fill="url(#gP)"/><line x1="248.9" y1="934.9" x2="305.3" y2="931.3" stroke="#8cb5b8" stroke-width="7.4" stroke-linecap="round"/><line x1="305.3" y1="931.3" x2="345.7" y2="969.8" stroke="#8cb5b8" stroke-width="7.4" stroke-linecap="round"/><line x1="409.1" y1="936.2" x2="463.4" y2="931.3" stroke="#8cb5b8" stroke-width="7.4" stroke-linecap="round"/><line x1="463.4" y1="931.3" x2="500.1" y2="970.9" stroke="#8cb5b8" stroke-width="7.4" stroke-linecap="round"/><line x1="500.1" y1="970.9" x2="549.0" y2="966.3" stroke="#8cb5b8" stroke-width="7.4" stroke-linecap="round"/><line x1="576.0" y1="933.7" x2="622.0" y2="932.3" stroke="#8cb5b8" stroke-width="7.4" stroke-linecap="round"/><line x1="622.0" y1="932.3" x2="658.5" y2="968.3" stroke="#8cb5b8" stroke-width="7.4" stroke-linecap="round"/><line x1="658.5" y1="968.3" x2="702.8" y2="966.1" stroke="#8cb5b8" stroke-width="7.4" stroke-linecap="round"/><line x1="735.1" y1="934.9" x2="777.6" y2="932.2" stroke="#8cb5b8" stroke-width="7.4" stroke-linecap="round"/><line x1="777.6" y1="932.2" x2="811.7" y2="969.5" stroke="#8cb5b8" stroke-width="7.4" stroke-linecap="round"/><line x1="811.7" y1="969.5" x2="852.4" y2="966.1" stroke="#8cb5b8" stroke-width="7.4" stroke-linecap="round"/><line x1="899.1" y1="934.9" x2="939.3" y2="932.2" stroke="#8cb5b8" stroke-width="7.4" stroke-linecap="round"/><line x1="939.3" y1="932.2" x2="970.8" y2="970.6" stroke="#8cb5b8" stroke-width="7.4" stroke-linecap="round"/><line x1="1064.1" y1="932.5" x2="1098.7" y2="930.0" stroke="#8cb5b8" stroke-width="7.4" stroke-linecap="round"/><line x1="1098.7" y1="930.0" x2="1128.8" y2="967.1" stroke="#8cb5b8" stroke-width="7.4" stroke-linecap="round"/><circle cx="305.3" cy="931.3" r="10.2" fill="url(#gP)"/><circle cx="463.4" cy="931.3" r="10.2" fill="url(#gP)"/><circle cx="549.0" cy="966.3" r="10.2" fill="url(#gP)"/><circle cx="622.0" cy="932.3" r="10.2" fill="url(#gP)"/><circle cx="702.8" cy="966.1" r="10.2" fill="url(#gP)"/><circle cx="777.6" cy="932.2" r="10.2" fill="url(#gP)"/><circle cx="852.4" cy="966.1" r="10.2" fill="url(#gP)"/><circle cx="939.3" cy="932.2" r="10.2" fill="url(#gP)"/><circle cx="1098.7" cy="930.0" r="10.2" fill="url(#gP)"/><line x1="284.3" y1="937.9" x2="248.9" y2="934.9" stroke="#8cb5b8" stroke-width="7.4" stroke-linecap="round"/><line x1="382.1" y1="974.7" x2="345.7" y2="969.8" stroke="#8cb5b8" stroke-width="7.4" stroke-linecap="round"/><line x1="382.1" y1="974.7" x2="409.1" y2="936.2" stroke="#8cb5b8" stroke-width="7.4" stroke-linecap="round"/><line x1="450.7" y1="937.9" x2="409.1" y2="936.2" stroke="#8cb5b8" stroke-width="7.4" stroke-linecap="round"/><line x1="540.8" y1="974.7" x2="500.1" y2="970.9" stroke="#8cb5b8" stroke-width="7.4" stroke-linecap="round"/><line x1="540.8" y1="974.7" x2="576.0" y2="933.7" stroke="#8cb5b8" stroke-width="7.4" stroke-linecap="round"/><line x1="617.6" y1="938.9" x2="576.0" y2="933.7" stroke="#8cb5b8" stroke-width="7.4" stroke-linecap="round"/><line x1="702.6" y1="974.5" x2="658.5" y2="968.3" stroke="#8cb5b8" stroke-width="7.4" stroke-linecap="round"/><line x1="702.6" y1="974.5" x2="735.1" y2="934.9" stroke="#8cb5b8" stroke-width="7.4" stroke-linecap="round"/><line x1="781.4" y1="938.8" x2="735.1" y2="934.9" stroke="#8cb5b8" stroke-width="7.4" stroke-linecap="round"/><line x1="860.2" y1="974.5" x2="811.7" y2="969.5" stroke="#8cb5b8" stroke-width="7.4" stroke-linecap="round"/><line x1="860.2" y1="974.5" x2="899.1" y2="934.9" stroke="#8cb5b8" stroke-width="7.4" stroke-linecap="round"/><line x1="951.7" y1="938.8" x2="899.1" y2="934.9" stroke="#8cb5b8" stroke-width="7.4" stroke-linecap="round"/><line x1="1022.8" y1="975.8" x2="970.8" y2="970.6" stroke="#8cb5b8" stroke-width="7.4" stroke-linecap="round"/><line x1="1022.8" y1="975.8" x2="1064.1" y2="932.5" stroke="#8cb5b8" stroke-width="7.4" stroke-linecap="round"/><line x1="1119.4" y1="936.5" x2="1064.1" y2="932.5" stroke="#8cb5b8" stroke-width="7.4" stroke-linecap="round"/><circle cx="248.9" cy="934.9" r="10.3" fill="url(#gP)"/><circle cx="345.7" cy="969.8" r="10.3" fill="url(#gP)"/><circle cx="409.1" cy="936.2" r="10.3" fill="url(#gP)"/><circle cx="500.1" cy="970.9" r="10.3" fill="url(#gP)"/><circle cx="576.0" cy="933.7" r="10.3" fill="url(#gP)"/><circle cx="658.5" cy="968.3" r="10.3" fill="url(#gP)"/><circle cx="735.1" cy="934.9" r="10.3" fill="url(#gP)"/><circle cx="811.7" cy="969.5" r="10.3" fill="url(#gP)"/><circle cx="899.1" cy="934.9" r="10.3" fill="url(#gP)"/><circle cx="970.8" cy="970.6" r="10.3" fill="url(#gP)"/><circle cx="1064.1" cy="932.5" r="10.3" fill="url(#gP)"/><circle cx="1128.8" cy="967.1" r="10.3" fill="url(#gP)"/><line x1="224.2" y1="941.8" x2="284.3" y2="937.9" stroke="#8cb5b8" stroke-width="7.6" stroke-linecap="round"/><line x1="284.3" y1="937.9" x2="326.3" y2="978.6" stroke="#8cb5b8" stroke-width="7.6" stroke-linecap="round"/><line x1="326.3" y1="978.6" x2="382.1" y2="974.7" stroke="#8cb5b8" stroke-width="7.6" stroke-linecap="round"/><line x1="393.1" y1="943.2" x2="450.7" y2="937.9" stroke="#8cb5b8" stroke-width="7.6" stroke-linecap="round"/><line x1="450.7" y1="937.9" x2="489.0" y2="979.8" stroke="#8cb5b8" stroke-width="7.6" stroke-linecap="round"/><line x1="489.0" y1="979.8" x2="540.8" y2="974.7" stroke="#8cb5b8" stroke-width="7.6" stroke-linecap="round"/><line x1="569.0" y1="940.5" x2="617.6" y2="938.9" stroke="#8cb5b8" stroke-width="7.6" stroke-linecap="round"/><line x1="617.6" y1="938.9" x2="656.0" y2="977.1" stroke="#8cb5b8" stroke-width="7.6" stroke-linecap="round"/><line x1="656.0" y1="977.1" x2="702.6" y2="974.5" stroke="#8cb5b8" stroke-width="7.6" stroke-linecap="round"/><line x1="736.7" y1="941.8" x2="781.4" y2="938.8" stroke="#8cb5b8" stroke-width="7.6" stroke-linecap="round"/><line x1="781.4" y1="938.8" x2="817.5" y2="978.3" stroke="#8cb5b8" stroke-width="7.6" stroke-linecap="round"/><line x1="817.5" y1="978.3" x2="860.2" y2="974.5" stroke="#8cb5b8" stroke-width="7.6" stroke-linecap="round"/><line x1="909.5" y1="941.8" x2="951.7" y2="938.8" stroke="#8cb5b8" stroke-width="7.6" stroke-linecap="round"/><line x1="951.7" y1="938.8" x2="985.2" y2="979.4" stroke="#8cb5b8" stroke-width="7.6" stroke-linecap="round"/><line x1="985.2" y1="979.4" x2="1022.8" y2="975.8" stroke="#8cb5b8" stroke-width="7.6" stroke-linecap="round"/><line x1="1083.5" y1="939.3" x2="1119.4" y2="936.5" stroke="#8cb5b8" stroke-width="7.6" stroke-linecap="round"/><line x1="1119.4" y1="936.5" x2="1151.7" y2="975.8" stroke="#8cb5b8" stroke-width="7.6" stroke-linecap="round"/><circle cx="284.3" cy="937.9" r="10.8" fill="url(#gP)"/><circle cx="382.1" cy="974.7" r="10.8" fill="url(#gP)"/><circle cx="450.7" cy="937.9" r="10.8" fill="url(#gP)"/><circle cx="540.8" cy="974.7" r="10.8" fill="url(#gP)"/><circle cx="617.6" cy="938.9" r="10.8" fill="url(#gP)"/><circle cx="702.6" cy="974.5" r="10.8" fill="url(#gP)"/><circle cx="781.4" cy="938.8" r="10.8" fill="url(#gP)"/><circle cx="860.2" cy="974.5" r="10.8" fill="url(#gP)"/><circle cx="951.7" cy="938.8" r="10.8" fill="url(#gP)"/><circle cx="1022.8" cy="975.8" r="10.8" fill="url(#gP)"/><circle cx="1119.4" cy="936.5" r="10.8" fill="url(#gP)"/><line x1="260.9" y1="945.2" x2="224.2" y2="941.8" stroke="#8cb5b8" stroke-width="7.7" stroke-linecap="round"/><line x1="364.1" y1="984.0" x2="326.3" y2="978.6" stroke="#8cb5b8" stroke-width="7.7" stroke-linecap="round"/><line x1="364.1" y1="984.0" x2="393.1" y2="943.2" stroke="#8cb5b8" stroke-width="7.7" stroke-linecap="round"/><line x1="436.5" y1="945.2" x2="393.1" y2="943.2" stroke="#8cb5b8" stroke-width="7.7" stroke-linecap="round"/><line x1="531.7" y1="984.0" x2="489.0" y2="979.8" stroke="#8cb5b8" stroke-width="7.7" stroke-linecap="round"/><line x1="531.7" y1="984.0" x2="569.0" y2="940.5" stroke="#8cb5b8" stroke-width="7.7" stroke-linecap="round"/><line x1="612.8" y1="946.2" x2="569.0" y2="940.5" stroke="#8cb5b8" stroke-width="7.7" stroke-linecap="round"/><line x1="702.5" y1="983.8" x2="656.0" y2="977.1" stroke="#8cb5b8" stroke-width="7.7" stroke-linecap="round"/><line x1="702.5" y1="983.8" x2="736.7" y2="941.8" stroke="#8cb5b8" stroke-width="7.7" stroke-linecap="round"/><line x1="785.7" y1="946.2" x2="736.7" y2="941.8" stroke="#8cb5b8" stroke-width="7.7" stroke-linecap="round"/><line x1="868.8" y1="983.8" x2="817.5" y2="978.3" stroke="#8cb5b8" stroke-width="7.7" stroke-linecap="round"/><line x1="868.8" y1="983.8" x2="909.5" y2="941.8" stroke="#8cb5b8" stroke-width="7.7" stroke-linecap="round"/><line x1="965.4" y1="946.2" x2="909.5" y2="941.8" stroke="#8cb5b8" stroke-width="7.7" stroke-linecap="round"/><line x1="1040.5" y1="985.2" x2="985.2" y2="979.4" stroke="#8cb5b8" stroke-width="7.7" stroke-linecap="round"/><line x1="1040.5" y1="985.2" x2="1083.5" y2="939.3" stroke="#8cb5b8" stroke-width="7.7" stroke-linecap="round"/><line x1="1142.5" y1="943.7" x2="1083.5" y2="939.3" stroke="#8cb5b8" stroke-width="7.7" stroke-linecap="round"/><circle cx="224.2" cy="941.8" r="10.9" fill="url(#gP)"/><circle cx="326.3" cy="978.6" r="10.9" fill="url(#gP)"/><circle cx="393.1" cy="943.2" r="10.9" fill="url(#gP)"/><circle cx="489.0" cy="979.8" r="10.9" fill="url(#gP)"/><circle cx="569.0" cy="940.5" r="10.9" fill="url(#gP)"/><circle cx="656.0" cy="977.1" r="10.9" fill="url(#gP)"/><circle cx="736.7" cy="941.8" r="10.9" fill="url(#gP)"/><circle cx="817.5" cy="978.3" r="10.9" fill="url(#gP)"/><circle cx="909.5" cy="941.8" r="10.9" fill="url(#gP)"/><circle cx="985.2" cy="979.4" r="10.9" fill="url(#gP)"/><circle cx="1083.5" cy="939.3" r="10.9" fill="url(#gP)"/><circle cx="1151.7" cy="975.8" r="10.9" fill="url(#gP)"/><line x1="196.7" y1="949.5" x2="260.9" y2="945.2" stroke="#8cb5b8" stroke-width="7.8" stroke-linecap="round"/><line x1="260.9" y1="945.2" x2="304.7" y2="988.4" stroke="#8cb5b8" stroke-width="7.8" stroke-linecap="round"/><line x1="304.7" y1="988.4" x2="364.1" y2="984.0" stroke="#8cb5b8" stroke-width="7.8" stroke-linecap="round"/><line x1="375.3" y1="951.0" x2="436.5" y2="945.2" stroke="#8cb5b8" stroke-width="7.8" stroke-linecap="round"/><line x1="436.5" y1="945.2" x2="476.7" y2="989.7" stroke="#8cb5b8" stroke-width="7.8" stroke-linecap="round"/><line x1="476.7" y1="989.7" x2="531.7" y2="984.0" stroke="#8cb5b8" stroke-width="7.8" stroke-linecap="round"/><line x1="561.3" y1="948.2" x2="612.8" y2="946.2" stroke="#8cb5b8" stroke-width="7.8" stroke-linecap="round"/><line x1="612.8" y1="946.2" x2="653.2" y2="986.8" stroke="#8cb5b8" stroke-width="7.8" stroke-linecap="round"/><line x1="653.2" y1="986.8" x2="702.5" y2="983.8" stroke="#8cb5b8" stroke-width="7.8" stroke-linecap="round"/><line x1="738.6" y1="949.5" x2="785.7" y2="946.2" stroke="#8cb5b8" stroke-width="7.8" stroke-linecap="round"/><line x1="785.7" y1="946.2" x2="823.9" y2="988.1" stroke="#8cb5b8" stroke-width="7.8" stroke-linecap="round"/><line x1="823.9" y1="988.1" x2="868.8" y2="983.8" stroke="#8cb5b8" stroke-width="7.8" stroke-linecap="round"/><line x1="921.2" y1="949.5" x2="965.4" y2="946.2" stroke="#8cb5b8" stroke-width="7.8" stroke-linecap="round"/><line x1="965.4" y1="946.2" x2="1001.2" y2="989.3" stroke="#8cb5b8" stroke-width="7.8" stroke-linecap="round"/><line x1="1001.2" y1="989.3" x2="1040.5" y2="985.2" stroke="#8cb5b8" stroke-width="7.8" stroke-linecap="round"/><line x1="1105.2" y1="946.9" x2="1142.5" y2="943.7" stroke="#8cb5b8" stroke-width="7.8" stroke-linecap="round"/><line x1="1142.5" y1="943.7" x2="1177.2" y2="985.5" stroke="#8cb5b8" stroke-width="7.8" stroke-linecap="round"/><circle cx="260.9" cy="945.2" r="11.4" fill="url(#gP)"/><circle cx="364.1" cy="984.0" r="11.4" fill="url(#gP)"/><circle cx="436.5" cy="945.2" r="11.4" fill="url(#gP)"/><circle cx="531.7" cy="984.0" r="11.4" fill="url(#gP)"/><circle cx="612.8" cy="946.2" r="11.4" fill="url(#gP)"/><circle cx="702.5" cy="983.8" r="11.4" fill="url(#gP)"/><circle cx="785.7" cy="946.2" r="11.4" fill="url(#gP)"/><circle cx="868.8" cy="983.8" r="11.4" fill="url(#gP)"/><circle cx="965.4" cy="946.2" r="11.4" fill="url(#gP)"/><circle cx="1040.5" cy="985.2" r="11.4" fill="url(#gP)"/><circle cx="1142.5" cy="943.7" r="11.4" fill="url(#gP)"/><line x1="234.7" y1="953.3" x2="196.7" y2="949.5" stroke="#8cb5b8" stroke-width="7.9" stroke-linecap="round"/><line x1="344.0" y1="994.4" x2="304.7" y2="988.4" stroke="#8cb5b8" stroke-width="7.9" stroke-linecap="round"/><line x1="344.0" y1="994.4" x2="375.3" y2="951.0" stroke="#8cb5b8" stroke-width="7.9" stroke-linecap="round"/><line x1="420.7" y1="953.3" x2="375.3" y2="951.0" stroke="#8cb5b8" stroke-width="7.9" stroke-linecap="round"/><line x1="521.5" y1="994.4" x2="476.7" y2="989.7" stroke="#8cb5b8" stroke-width="7.9" stroke-linecap="round"/><line x1="521.5" y1="994.4" x2="561.3" y2="948.2" stroke="#8cb5b8" stroke-width="7.9" stroke-linecap="round"/><line x1="607.3" y1="954.4" x2="561.3" y2="948.2" stroke="#8cb5b8" stroke-width="7.9" stroke-linecap="round"/><line x1="702.4" y1="994.2" x2="653.2" y2="986.8" stroke="#8cb5b8" stroke-width="7.9" stroke-linecap="round"/><line x1="702.4" y1="994.2" x2="738.6" y2="949.5" stroke="#8cb5b8" stroke-width="7.9" stroke-linecap="round"/><line x1="790.4" y1="954.3" x2="738.6" y2="949.5" stroke="#8cb5b8" stroke-width="7.9" stroke-linecap="round"/><line x1="878.5" y1="994.2" x2="823.9" y2="988.1" stroke="#8cb5b8" stroke-width="7.9" stroke-linecap="round"/><line x1="878.5" y1="994.2" x2="921.2" y2="949.5" stroke="#8cb5b8" stroke-width="7.9" stroke-linecap="round"/><line x1="980.7" y1="954.3" x2="921.2" y2="949.5" stroke="#8cb5b8" stroke-width="7.9" stroke-linecap="round"/><line x1="1060.2" y1="995.6" x2="1001.2" y2="989.3" stroke="#8cb5b8" stroke-width="7.9" stroke-linecap="round"/><line x1="1060.2" y1="995.6" x2="1105.2" y2="946.9" stroke="#8cb5b8" stroke-width="7.9" stroke-linecap="round"/><line x1="1168.2" y1="951.7" x2="1105.2" y2="946.9" stroke="#8cb5b8" stroke-width="7.9" stroke-linecap="round"/><circle cx="196.7" cy="949.5" r="11.5" fill="url(#gP)"/><circle cx="304.7" cy="988.4" r="11.5" fill="url(#gP)"/><circle cx="375.3" cy="951.0" r="11.5" fill="url(#gP)"/><circle cx="476.7" cy="989.7" r="11.5" fill="url(#gP)"/><circle cx="561.3" cy="948.2" r="11.5" fill="url(#gP)"/><circle cx="653.2" cy="986.8" r="11.5" fill="url(#gP)"/><circle cx="738.6" cy="949.5" r="11.5" fill="url(#gP)"/><circle cx="823.9" cy="988.1" r="11.5" fill="url(#gP)"/><circle cx="921.2" cy="949.5" r="11.5" fill="url(#gP)"/><circle cx="1001.2" cy="989.3" r="11.5" fill="url(#gP)"/><circle cx="1105.2" cy="946.9" r="11.5" fill="url(#gP)"/><circle cx="1177.2" cy="985.5" r="11.5" fill="url(#gP)"/><line x1="165.9" y1="958.1" x2="234.7" y2="953.3" stroke="#8cb5b8" stroke-width="8.1" stroke-linecap="round"/><line x1="234.7" y1="953.3" x2="280.4" y2="999.4" stroke="#8cb5b8" stroke-width="8.1" stroke-linecap="round"/><line x1="280.4" y1="999.4" x2="344.0" y2="994.4" stroke="#8cb5b8" stroke-width="8.1" stroke-linecap="round"/><line x1="355.3" y1="959.7" x2="420.7" y2="953.3" stroke="#8cb5b8" stroke-width="8.1" stroke-linecap="round"/><line x1="420.7" y1="953.3" x2="462.8" y2="1000.8" stroke="#8cb5b8" stroke-width="8.1" stroke-linecap="round"/><line x1="462.8" y1="1000.8" x2="521.5" y2="994.4" stroke="#8cb5b8" stroke-width="8.1" stroke-linecap="round"/><line x1="552.5" y1="956.7" x2="607.3" y2="954.4" stroke="#8cb5b8" stroke-width="8.1" stroke-linecap="round"/><line x1="607.3" y1="954.4" x2="650.1" y2="997.7" stroke="#8cb5b8" stroke-width="8.1" stroke-linecap="round"/><line x1="650.1" y1="997.7" x2="702.4" y2="994.2" stroke="#8cb5b8" stroke-width="8.1" stroke-linecap="round"/><line x1="740.6" y1="958.1" x2="790.4" y2="954.3" stroke="#8cb5b8" stroke-width="8.1" stroke-linecap="round"/><line x1="790.4" y1="954.3" x2="831.1" y2="999.1" stroke="#8cb5b8" stroke-width="8.1" stroke-linecap="round"/><line x1="831.1" y1="999.1" x2="878.5" y2="994.2" stroke="#8cb5b8" stroke-width="8.1" stroke-linecap="round"/><line x1="934.3" y1="958.1" x2="980.7" y2="954.3" stroke="#8cb5b8" stroke-width="8.1" stroke-linecap="round"/><line x1="980.7" y1="954.3" x2="1019.1" y2="1000.3" stroke="#8cb5b8" stroke-width="8.1" stroke-linecap="round"/><line x1="1019.1" y1="1000.3" x2="1060.2" y2="995.6" stroke="#8cb5b8" stroke-width="8.1" stroke-linecap="round"/><line x1="1129.4" y1="955.3" x2="1168.2" y2="951.7" stroke="#8cb5b8" stroke-width="8.1" stroke-linecap="round"/><line x1="1168.2" y1="951.7" x2="1205.9" y2="996.3" stroke="#8cb5b8" stroke-width="8.1" stroke-linecap="round"/><circle cx="234.7" cy="953.3" r="12.1" fill="url(#gP)"/><circle cx="344.0" cy="994.4" r="12.1" fill="url(#gP)"/><circle cx="420.7" cy="953.3" r="12.1" fill="url(#gP)"/><circle cx="521.5" cy="994.4" r="12.1" fill="url(#gP)"/><circle cx="607.3" cy="954.4" r="12.1" fill="url(#gP)"/><circle cx="702.4" cy="994.2" r="12.1" fill="url(#gP)"/><circle cx="790.4" cy="954.3" r="12.1" fill="url(#gP)"/><circle cx="878.5" cy="994.2" r="12.1" fill="url(#gP)"/><circle cx="980.7" cy="954.3" r="12.1" fill="url(#gP)"/><circle cx="1060.2" cy="995.6" r="12.1" fill="url(#gP)"/><circle cx="1168.2" cy="951.7" r="12.1" fill="url(#gP)"/><line x1="205.3" y1="962.4" x2="165.9" y2="958.1" stroke="#8cb5b8" stroke-width="8.2" stroke-linecap="round"/><line x1="321.5" y1="1006.1" x2="280.4" y2="999.4" stroke="#8cb5b8" stroke-width="8.2" stroke-linecap="round"/><line x1="321.5" y1="1006.1" x2="355.3" y2="959.7" stroke="#8cb5b8" stroke-width="8.2" stroke-linecap="round"/><line x1="402.9" y1="962.4" x2="355.3" y2="959.7" stroke="#8cb5b8" stroke-width="8.2" stroke-linecap="round"/><line x1="510.0" y1="1006.1" x2="462.8" y2="1000.8" stroke="#8cb5b8" stroke-width="8.2" stroke-linecap="round"/><line x1="510.0" y1="1006.1" x2="552.5" y2="956.7" stroke="#8cb5b8" stroke-width="8.2" stroke-linecap="round"/><line x1="601.2" y1="963.7" x2="552.5" y2="956.7" stroke="#8cb5b8" stroke-width="8.2" stroke-linecap="round"/><line x1="702.2" y1="1005.9" x2="650.1" y2="997.7" stroke="#8cb5b8" stroke-width="8.2" stroke-linecap="round"/><line x1="702.2" y1="1005.9" x2="740.6" y2="958.1" stroke="#8cb5b8" stroke-width="8.2" stroke-linecap="round"/><line x1="795.7" y1="963.6" x2="740.6" y2="958.1" stroke="#8cb5b8" stroke-width="8.2" stroke-linecap="round"/><line x1="889.3" y1="1005.9" x2="831.1" y2="999.1" stroke="#8cb5b8" stroke-width="8.2" stroke-linecap="round"/><line x1="889.3" y1="1005.9" x2="934.3" y2="958.1" stroke="#8cb5b8" stroke-width="8.2" stroke-linecap="round"/><line x1="998.0" y1="963.6" x2="934.3" y2="958.1" stroke="#8cb5b8" stroke-width="8.2" stroke-linecap="round"/><line x1="1082.4" y1="1007.4" x2="1019.1" y2="1000.3" stroke="#8cb5b8" stroke-width="8.2" stroke-linecap="round"/><line x1="1082.4" y1="1007.4" x2="1129.4" y2="955.3" stroke="#8cb5b8" stroke-width="8.2" stroke-linecap="round"/><line x1="1197.2" y1="960.7" x2="1129.4" y2="955.3" stroke="#8cb5b8" stroke-width="8.2" stroke-linecap="round"/><circle cx="165.9" cy="958.1" r="12.2" fill="url(#gP)"/><circle cx="280.4" cy="999.4" r="12.2" fill="url(#gP)"/><circle cx="355.3" cy="959.7" r="12.2" fill="url(#gP)"/><circle cx="462.8" cy="1000.8" r="12.2" fill="url(#gP)"/><circle cx="552.5" cy="956.7" r="12.2" fill="url(#gP)"/><circle cx="650.1" cy="997.7" r="12.2" fill="url(#gP)"/><circle cx="740.6" cy="958.1" r="12.2" fill="url(#gP)"/><circle cx="831.1" cy="999.1" r="12.2" fill="url(#gP)"/><circle cx="934.3" cy="958.1" r="12.2" fill="url(#gP)"/><circle cx="1019.1" cy="1000.3" r="12.2" fill="url(#gP)"/><circle cx="1129.4" cy="955.3" r="12.2" fill="url(#gP)"/><circle cx="1205.9" cy="996.3" r="12.2" fill="url(#gP)"/><line x1="131.1" y1="967.9" x2="205.3" y2="962.4" stroke="#8cb5b8" stroke-width="8.4" stroke-linecap="round"/><line x1="205.3" y1="962.4" x2="253.0" y2="1011.8" stroke="#8cb5b8" stroke-width="8.4" stroke-linecap="round"/><line x1="253.0" y1="1011.8" x2="321.5" y2="1006.1" stroke="#8cb5b8" stroke-width="8.4" stroke-linecap="round"/><line x1="332.7" y1="969.6" x2="402.9" y2="962.4" stroke="#8cb5b8" stroke-width="8.4" stroke-linecap="round"/><line x1="402.9" y1="962.4" x2="447.2" y2="1013.3" stroke="#8cb5b8" stroke-width="8.4" stroke-linecap="round"/><line x1="447.2" y1="1013.3" x2="510.0" y2="1006.1" stroke="#8cb5b8" stroke-width="8.4" stroke-linecap="round"/><line x1="542.7" y1="966.4" x2="601.2" y2="963.7" stroke="#8cb5b8" stroke-width="8.4" stroke-linecap="round"/><line x1="601.2" y1="963.7" x2="646.5" y2="1010.0" stroke="#8cb5b8" stroke-width="8.4" stroke-linecap="round"/><line x1="646.5" y1="1010.0" x2="702.2" y2="1005.9" stroke="#8cb5b8" stroke-width="8.4" stroke-linecap="round"/><line x1="742.9" y1="967.9" x2="795.7" y2="963.6" stroke="#8cb5b8" stroke-width="8.4" stroke-linecap="round"/><line x1="795.7" y1="963.6" x2="839.2" y2="1011.5" stroke="#8cb5b8" stroke-width="8.4" stroke-linecap="round"/><line x1="839.2" y1="1011.5" x2="889.3" y2="1005.9" stroke="#8cb5b8" stroke-width="8.4" stroke-linecap="round"/><line x1="949.2" y1="967.9" x2="998.0" y2="963.6" stroke="#8cb5b8" stroke-width="8.4" stroke-linecap="round"/><line x1="998.0" y1="963.6" x2="1039.4" y2="1012.8" stroke="#8cb5b8" stroke-width="8.4" stroke-linecap="round"/><line x1="1039.4" y1="1012.8" x2="1082.4" y2="1007.4" stroke="#8cb5b8" stroke-width="8.4" stroke-linecap="round"/><line x1="1156.8" y1="964.9" x2="1197.2" y2="960.7" stroke="#8cb5b8" stroke-width="8.4" stroke-linecap="round"/><line x1="1197.2" y1="960.7" x2="1238.2" y2="1008.5" stroke="#8cb5b8" stroke-width="8.4" stroke-linecap="round"/><circle cx="205.3" cy="962.4" r="12.8" fill="url(#gP)"/><circle cx="321.5" cy="1006.1" r="12.8" fill="url(#gP)"/><circle cx="402.9" cy="962.4" r="12.8" fill="url(#gP)"/><circle cx="510.0" cy="1006.1" r="12.8" fill="url(#gP)"/><circle cx="601.2" cy="963.7" r="12.8" fill="url(#gP)"/><circle cx="702.2" cy="1005.9" r="12.8" fill="url(#gP)"/><circle cx="795.7" cy="963.6" r="12.8" fill="url(#gP)"/><circle cx="889.3" cy="1005.9" r="12.8" fill="url(#gP)"/><circle cx="998.0" cy="963.6" r="12.8" fill="url(#gP)"/><circle cx="1082.4" cy="1007.4" r="12.8" fill="url(#gP)"/><circle cx="1197.2" cy="960.7" r="12.8" fill="url(#gP)"/><line x1="172.0" y1="972.8" x2="131.1" y2="967.9" stroke="#8cb5b8" stroke-width="8.5" stroke-linecap="round"/><line x1="295.9" y1="1019.4" x2="253.0" y2="1011.8" stroke="#8cb5b8" stroke-width="8.5" stroke-linecap="round"/><line x1="295.9" y1="1019.4" x2="332.7" y2="969.6" stroke="#8cb5b8" stroke-width="8.5" stroke-linecap="round"/><line x1="382.8" y1="972.8" x2="332.7" y2="969.6" stroke="#8cb5b8" stroke-width="8.5" stroke-linecap="round"/><line x1="497.0" y1="1019.4" x2="447.2" y2="1013.3" stroke="#8cb5b8" stroke-width="8.5" stroke-linecap="round"/><line x1="497.0" y1="1019.4" x2="542.7" y2="966.4" stroke="#8cb5b8" stroke-width="8.5" stroke-linecap="round"/><line x1="594.3" y1="974.1" x2="542.7" y2="966.4" stroke="#8cb5b8" stroke-width="8.5" stroke-linecap="round"/><line x1="702.0" y1="1019.2" x2="646.5" y2="1010.0" stroke="#8cb5b8" stroke-width="8.5" stroke-linecap="round"/><line x1="702.0" y1="1019.2" x2="742.9" y2="967.9" stroke="#8cb5b8" stroke-width="8.5" stroke-linecap="round"/><line x1="801.8" y1="974.0" x2="742.9" y2="967.9" stroke="#8cb5b8" stroke-width="8.5" stroke-linecap="round"/><line x1="901.6" y1="1019.2" x2="839.2" y2="1011.5" stroke="#8cb5b8" stroke-width="8.5" stroke-linecap="round"/><line x1="901.6" y1="1019.2" x2="949.2" y2="967.9" stroke="#8cb5b8" stroke-width="8.5" stroke-linecap="round"/><line x1="1017.5" y1="974.0" x2="949.2" y2="967.9" stroke="#8cb5b8" stroke-width="8.5" stroke-linecap="round"/><line x1="1107.6" y1="1020.8" x2="1039.4" y2="1012.8" stroke="#8cb5b8" stroke-width="8.5" stroke-linecap="round"/><line x1="1107.6" y1="1020.8" x2="1156.8" y2="964.9" stroke="#8cb5b8" stroke-width="8.5" stroke-linecap="round"/><line x1="1230.0" y1="971.0" x2="1156.8" y2="964.9" stroke="#8cb5b8" stroke-width="8.5" stroke-linecap="round"/><line x1="1313.6" y1="1017.6" x2="1238.2" y2="1008.5" stroke="#8cb5b8" stroke-width="8.5" stroke-linecap="round"/><circle cx="131.1" cy="967.9" r="13.0" fill="url(#gP)"/><circle cx="253.0" cy="1011.8" r="13.0" fill="url(#gP)"/><circle cx="332.7" cy="969.6" r="13.0" fill="url(#gP)"/><circle cx="447.2" cy="1013.3" r="13.0" fill="url(#gP)"/><circle cx="542.7" cy="966.4" r="13.0" fill="url(#gP)"/><circle cx="646.5" cy="1010.0" r="13.0" fill="url(#gP)"/><circle cx="742.9" cy="967.9" r="13.0" fill="url(#gP)"/><circle cx="839.2" cy="1011.5" r="13.0" fill="url(#gP)"/><circle cx="949.2" cy="967.9" r="13.0" fill="url(#gP)"/><circle cx="1039.4" cy="1012.8" r="13.0" fill="url(#gP)"/><circle cx="1156.8" cy="964.9" r="13.0" fill="url(#gP)"/><circle cx="1238.2" cy="1008.5" r="13.0" fill="url(#gP)"/><line x1="91.5" y1="979.0" x2="172.0" y2="972.8" stroke="#8cb5b8" stroke-width="8.7" stroke-linecap="round"/><line x1="172.0" y1="972.8" x2="221.8" y2="1025.9" stroke="#8cb5b8" stroke-width="8.7" stroke-linecap="round"/><line x1="221.8" y1="1025.9" x2="295.9" y2="1019.4" stroke="#8cb5b8" stroke-width="8.7" stroke-linecap="round"/><line x1="307.0" y1="980.8" x2="382.8" y2="972.8" stroke="#8cb5b8" stroke-width="8.7" stroke-linecap="round"/><line x1="382.8" y1="972.8" x2="429.4" y2="1027.5" stroke="#8cb5b8" stroke-width="8.7" stroke-linecap="round"/><line x1="429.4" y1="1027.5" x2="497.0" y2="1019.4" stroke="#8cb5b8" stroke-width="8.7" stroke-linecap="round"/><line x1="531.5" y1="977.4" x2="594.3" y2="974.1" stroke="#8cb5b8" stroke-width="8.7" stroke-linecap="round"/><line x1="594.3" y1="974.1" x2="642.5" y2="1024.0" stroke="#8cb5b8" stroke-width="8.7" stroke-linecap="round"/><line x1="642.5" y1="1024.0" x2="702.0" y2="1019.2" stroke="#8cb5b8" stroke-width="8.7" stroke-linecap="round"/><line x1="745.5" y1="979.0" x2="801.8" y2="974.0" stroke="#8cb5b8" stroke-width="8.7" stroke-linecap="round"/><line x1="801.8" y1="974.0" x2="848.5" y2="1025.6" stroke="#8cb5b8" stroke-width="8.7" stroke-linecap="round"/><line x1="848.5" y1="1025.6" x2="901.6" y2="1019.2" stroke="#8cb5b8" stroke-width="8.7" stroke-linecap="round"/><line x1="966.0" y1="979.0" x2="1017.5" y2="974.0" stroke="#8cb5b8" stroke-width="8.7" stroke-linecap="round"/><line x1="1017.5" y1="974.0" x2="1062.5" y2="1027.0" stroke="#8cb5b8" stroke-width="8.7" stroke-linecap="round"/><line x1="1062.5" y1="1027.0" x2="1107.6" y2="1020.8" stroke="#8cb5b8" stroke-width="8.7" stroke-linecap="round"/><line x1="1188.0" y1="975.8" x2="1230.0" y2="971.0" stroke="#8cb5b8" stroke-width="8.7" stroke-linecap="round"/><line x1="1230.0" y1="971.0" x2="1275.0" y2="1022.4" stroke="#8cb5b8" stroke-width="8.7" stroke-linecap="round"/><line x1="1275.0" y1="1022.4" x2="1313.6" y2="1017.6" stroke="#8cb5b8" stroke-width="8.7" stroke-linecap="round"/><circle cx="172.0" cy="972.8" r="13.7" fill="url(#gP)"/><circle cx="295.9" cy="1019.4" r="13.7" fill="url(#gP)"/><circle cx="382.8" cy="972.8" r="13.7" fill="url(#gP)"/><circle cx="497.0" cy="1019.4" r="13.7" fill="url(#gP)"/><circle cx="594.3" cy="974.1" r="13.7" fill="url(#gP)"/><circle cx="702.0" cy="1019.2" r="13.7" fill="url(#gP)"/><circle cx="801.8" cy="974.0" r="13.7" fill="url(#gP)"/><circle cx="901.6" cy="1019.2" r="13.7" fill="url(#gP)"/><circle cx="1017.5" cy="974.0" r="13.7" fill="url(#gP)"/><circle cx="1107.6" cy="1020.8" r="13.7" fill="url(#gP)"/><circle cx="1230.0" cy="971.0" r="13.7" fill="url(#gP)"/><circle cx="1313.6" cy="1017.6" r="13.7" fill="url(#gP)"/><circle cx="91.5" cy="979.0" r="13.9" fill="url(#gP)"/><circle cx="221.8" cy="1025.9" r="13.9" fill="url(#gP)"/><circle cx="307.0" cy="980.8" r="13.9" fill="url(#gP)"/><circle cx="429.4" cy="1027.5" r="13.9" fill="url(#gP)"/><circle cx="531.5" cy="977.4" r="13.9" fill="url(#gP)"/><circle cx="642.5" cy="1024.0" r="13.9" fill="url(#gP)"/><circle cx="745.5" cy="979.0" r="13.9" fill="url(#gP)"/><circle cx="848.5" cy="1025.6" r="13.9" fill="url(#gP)"/><circle cx="966.0" cy="979.0" r="13.9" fill="url(#gP)"/><circle cx="1062.5" cy="1027.0" r="13.9" fill="url(#gP)"/><circle cx="1188.0" cy="975.8" r="13.9" fill="url(#gP)"/><circle cx="1275.0" cy="1022.4" r="13.9" fill="url(#gP)"/></g>
<g filter="url(#b05)">
<path d="M591.0,100.0 L591.0,97.0 C591.0,83.7 585.7,80.7 578.5,73.5" fill="none" stroke="#3b77d0" stroke-width="2.7" stroke-linecap="round"/>
<path d="M703.4,98.5 L703.4,95.5 C703.4,82.3 696.8,80.4 690.8,72.4" fill="none" stroke="#3b77d0" stroke-width="2.7" stroke-linecap="round"/>
<path d="M820.3,97.0 L820.3,94.0 C820.3,80.0 813.5,77.8 807.1,69.3" fill="none" stroke="#3b77d0" stroke-width="2.7" stroke-linecap="round"/>
<path d="M521.5,163.6 L518.5,163.6 C504.9,163.6 502.5,169.1 493.5,174.3" fill="none" stroke="#3b77d0" stroke-width="2.7" stroke-linecap="round"/>
<path d="M524.8,278.0 L521.8,278.0 C507.5,278.0 505.5,285.0 496.0,290.4" fill="none" stroke="#3b77d0" stroke-width="2.7" stroke-linecap="round"/>
<path d="M528.0,389.5 L525.0,389.5 C510.2,389.5 508.5,397.6 498.7,403.2" fill="none" stroke="#3b77d0" stroke-width="2.7" stroke-linecap="round"/>
<path d="M884.3,162.2 L887.3,162.2 C899.9,162.2 902.0,167.8 910.0,173.2" fill="none" stroke="#3b77d0" stroke-width="2.7" stroke-linecap="round"/>
<path d="M881.0,277.1 L884.0,277.1 C897.3,277.1 899.5,283.0 907.9,288.7" fill="none" stroke="#3b77d0" stroke-width="2.7" stroke-linecap="round"/>
<path d="M877.3,389.5 L880.3,389.5 C894.6,389.5 896.8,396.2 905.8,402.3" fill="none" stroke="#3b77d0" stroke-width="2.7" stroke-linecap="round"/>
<path d="M591.3,446.5 L591.3,449.5 C591.3,463.7 594.0,468.4 601.6,476.0" fill="none" stroke="#3b77d0" stroke-width="2.7" stroke-linecap="round"/>
<path d="M704.0,447.0 L704.0,450.0 C704.0,463.7 710.0,466.6 717.3,473.9" fill="none" stroke="#3b77d0" stroke-width="2.7" stroke-linecap="round"/>
<path d="M818.2,446.5 L818.2,449.5 C818.2,462.2 823.2,465.2 830.0,472.0" fill="none" stroke="#3b77d0" stroke-width="2.7" stroke-linecap="round"/>
<circle cx="618.6" cy="311.2" r="6.9" fill="url(#gR)"/>
<circle cx="786.6" cy="311.2" r="6.9" fill="url(#gR)"/>
<circle cx="702.6" cy="311.2" r="6.9" fill="url(#gR)"/>
<circle cx="617.4" cy="228.4" r="7.0" fill="url(#gR)"/>
<circle cx="787.8" cy="228.4" r="7.0" fill="url(#gR)"/>
<polygon points="569.9,323.1 614.8,365.7 609.1,336.4" fill="url(#gBL)" stroke="#86b063" stroke-width="0.8" stroke-linejoin="round"/>
<polygon points="835.3,323.1 790.4,365.7 796.1,336.4" fill="url(#gBR)" stroke="#456628" stroke-width="0.8" stroke-linejoin="round"/>
<circle cx="702.6" cy="228.4" r="7.0" fill="url(#gR)"/>
<polygon points="658.4,323.1 614.8,365.7 609.1,336.4" fill="url(#gBR)" stroke="#456628" stroke-width="0.8" stroke-linejoin="round"/>
<polygon points="746.8,323.1 790.4,365.7 796.1,336.4" fill="url(#gBL)" stroke="#86b063" stroke-width="0.8" stroke-linejoin="round"/>
<circle cx="614.8" cy="365.7" r="7.2" fill="url(#gR)"/>
<circle cx="790.4" cy="365.7" r="7.2" fill="url(#gR)"/>
<circle cx="616.2" cy="143.2" r="7.1" fill="url(#gR)"/>
<circle cx="789.0" cy="143.2" r="7.1" fill="url(#gR)"/>
<polygon points="658.4,323.1 702.6,365.7 702.6,336.4" fill="url(#gBL)" stroke="#86b063" stroke-width="0.8" stroke-linejoin="round"/>
<polygon points="746.8,323.1 702.6,365.7 702.6,336.4" fill="url(#gBR)" stroke="#456628" stroke-width="0.8" stroke-linejoin="round"/>
<polygon points="569.9,323.1 613.4,279.9 609.1,336.4" fill="#8fd652" stroke="#8fd652" stroke-width="0.8" stroke-linejoin="round"/>
<polygon points="835.3,323.1 791.7,279.9 796.1,336.4" fill="#649438" stroke="#649438" stroke-width="0.8" stroke-linejoin="round"/>
<circle cx="702.6" cy="365.7" r="7.2" fill="url(#gR)"/>
<circle cx="702.6" cy="143.2" r="7.1" fill="url(#gR)"/>
<polygon points="658.4,323.1 613.4,279.9 609.1,336.4" fill="#649438" stroke="#649438" stroke-width="0.8" stroke-linejoin="round"/>
<polygon points="746.8,323.1 791.7,279.9 796.1,336.4" fill="#8fd652" stroke="#8fd652" stroke-width="0.8" stroke-linejoin="round"/>
<circle cx="569.9" cy="323.1" r="7.3" fill="url(#gR)"/>
<circle cx="835.3" cy="323.1" r="7.3" fill="url(#gR)"/>
<polygon points="658.4,323.1 702.6,279.9 702.6,336.4" fill="#8fd652" stroke="#8fd652" stroke-width="0.8" stroke-linejoin="round"/>
<polygon points="746.8,323.1 702.6,279.9 702.6,336.4" fill="#649438" stroke="#649438" stroke-width="0.8" stroke-linejoin="round"/>
<circle cx="658.4" cy="323.1" r="7.3" fill="url(#gR)"/>
<circle cx="746.8" cy="323.1" r="7.3" fill="url(#gR)"/>
<polygon points="567.9,236.0 613.4,279.9 607.6,244.5" fill="url(#gBL)" stroke="#86b063" stroke-width="0.8" stroke-linejoin="round"/>
<polygon points="837.3,236.0 791.7,279.9 797.6,244.5" fill="url(#gBR)" stroke="#456628" stroke-width="0.8" stroke-linejoin="round"/>
<polygon points="657.7,236.0 613.4,279.9 607.6,244.5" fill="url(#gBR)" stroke="#456628" stroke-width="0.8" stroke-linejoin="round"/>
<polygon points="747.5,236.0 791.7,279.9 797.6,244.5" fill="url(#gBL)" stroke="#86b063" stroke-width="0.8" stroke-linejoin="round"/>
<polygon points="567.9,236.0 612.1,191.4 607.6,244.5" fill="#8fd652" stroke="#8fd652" stroke-width="0.8" stroke-linejoin="round"/>
<polygon points="837.3,236.0 793.1,191.4 797.6,244.5" fill="#649438" stroke="#649438" stroke-width="0.8" stroke-linejoin="round"/>
<polygon points="657.7,236.0 702.6,279.9 702.6,244.5" fill="url(#gBL)" stroke="#86b063" stroke-width="0.8" stroke-linejoin="round"/>
<polygon points="747.5,236.0 702.6,279.9 702.6,244.5" fill="url(#gBR)" stroke="#456628" stroke-width="0.8" stroke-linejoin="round"/>
<circle cx="613.4" cy="279.9" r="7.3" fill="url(#gR)"/>
<circle cx="791.7" cy="279.9" r="7.3" fill="url(#gR)"/>
<polygon points="657.7,236.0 612.1,191.4 607.6,244.5" fill="#649438" stroke="#649438" stroke-width="0.8" stroke-linejoin="round"/>
<polygon points="747.5,236.0 793.1,191.4 797.6,244.5" fill="#8fd652" stroke="#8fd652" stroke-width="0.8" stroke-linejoin="round"/>
<circle cx="567.9" cy="236.0" r="7.4" fill="url(#gR)"/>
<circle cx="837.3" cy="236.0" r="7.4" fill="url(#gR)"/>
<polygon points="657.7,236.0 702.6,191.4 702.6,244.5" fill="#8fd652" stroke="#8fd652" stroke-width="0.8" stroke-linejoin="round"/>
<polygon points="747.5,236.0 702.6,191.4 702.6,244.5" fill="#649438" stroke="#649438" stroke-width="0.8" stroke-linejoin="round"/>
<circle cx="702.6" cy="279.9" r="7.3" fill="url(#gR)"/>
<polygon points="565.8,146.2 612.1,191.4 606.0,149.5" fill="url(#gBL)" stroke="#86b063" stroke-width="0.8" stroke-linejoin="round"/>
<polygon points="839.4,146.2 793.1,191.4 799.2,149.5" fill="url(#gBR)" stroke="#456628" stroke-width="0.8" stroke-linejoin="round"/>
<polygon points="565.8,146.2 610.7,100.2 606.0,149.5" fill="#8fd652" stroke="#8fd652" stroke-width="0.8" stroke-linejoin="round"/>
<polygon points="839.4,146.2 794.5,100.2 799.2,149.5" fill="#649438" stroke="#649438" stroke-width="0.8" stroke-linejoin="round"/>
<polygon points="657.0,146.2 612.1,191.4 606.0,149.5" fill="url(#gBR)" stroke="#456628" stroke-width="0.8" stroke-linejoin="round"/>
<polygon points="748.2,146.2 793.1,191.4 799.2,149.5" fill="url(#gBL)" stroke="#86b063" stroke-width="0.8" stroke-linejoin="round"/>
<polygon points="657.0,146.2 610.7,100.2 606.0,149.5" fill="#649438" stroke="#649438" stroke-width="0.8" stroke-linejoin="round"/>
<polygon points="748.2,146.2 794.5,100.2 799.2,149.5" fill="#8fd652" stroke="#8fd652" stroke-width="0.8" stroke-linejoin="round"/>
<polygon points="657.0,146.2 702.6,191.4 702.6,149.5" fill="url(#gBL)" stroke="#86b063" stroke-width="0.8" stroke-linejoin="round"/>
<polygon points="748.2,146.2 702.6,191.4 702.6,149.5" fill="url(#gBR)" stroke="#456628" stroke-width="0.8" stroke-linejoin="round"/>
<circle cx="657.7" cy="236.0" r="7.4" fill="url(#gR)"/>
<circle cx="747.5" cy="236.0" r="7.4" fill="url(#gR)"/>
<polygon points="657.0,146.2 702.6,100.2 702.6,149.5" fill="#8fd652" stroke="#8fd652" stroke-width="0.8" stroke-linejoin="round"/>
<polygon points="748.2,146.2 702.6,100.2 702.6,149.5" fill="#649438" stroke="#649438" stroke-width="0.8" stroke-linejoin="round"/>
<circle cx="565.8" cy="146.2" r="7.5" fill="url(#gR)"/>
<circle cx="839.4" cy="146.2" r="7.5" fill="url(#gR)"/>
<circle cx="612.1" cy="191.4" r="7.4" fill="url(#gR)"/>
<circle cx="793.1" cy="191.4" r="7.4" fill="url(#gR)"/>
<circle cx="702.6" cy="191.4" r="7.4" fill="url(#gR)"/>
<circle cx="610.7" cy="100.2" r="7.5" fill="url(#gR)"/>
<circle cx="794.5" cy="100.2" r="7.5" fill="url(#gR)"/>
<circle cx="657.0" cy="146.2" r="7.5" fill="url(#gR)"/>
<circle cx="748.2" cy="146.2" r="7.5" fill="url(#gR)"/>
<circle cx="702.6" cy="100.2" r="7.5" fill="url(#gR)"/>
<circle cx="609.1" cy="336.4" r="7.7" fill="url(#gR)"/>
<circle cx="796.1" cy="336.4" r="7.7" fill="url(#gR)"/>
<circle cx="702.6" cy="336.4" r="7.7" fill="url(#gR)"/>
<circle cx="607.6" cy="244.5" r="7.8" fill="url(#gR)"/>
<circle cx="797.6" cy="244.5" r="7.8" fill="url(#gR)"/>
<polygon points="553.9,351.4 604.3,398.8 597.1,368.2" fill="url(#gBL)" stroke="#86b063" stroke-width="0.8" stroke-linejoin="round"/>
<polygon points="851.3,351.4 800.9,398.8 808.1,368.2" fill="url(#gBR)" stroke="#456628" stroke-width="0.8" stroke-linejoin="round"/>
<polygon points="653.0,351.4 604.3,398.8 597.1,368.2" fill="url(#gBR)" stroke="#456628" stroke-width="0.8" stroke-linejoin="round"/>
<polygon points="752.2,351.4 800.9,398.8 808.1,368.2" fill="url(#gBL)" stroke="#86b063" stroke-width="0.8" stroke-linejoin="round"/>
<circle cx="702.6" cy="244.5" r="7.8" fill="url(#gR)"/>
<circle cx="604.3" cy="398.8" r="8.1" fill="url(#gR)"/>
<circle cx="800.9" cy="398.8" r="8.1" fill="url(#gR)"/>
<polygon points="653.0,351.4 702.6,398.8 702.6,368.2" fill="url(#gBL)" stroke="#86b063" stroke-width="0.8" stroke-linejoin="round"/>
<polygon points="752.2,351.4 702.6,398.8 702.6,368.2" fill="url(#gBR)" stroke="#456628" stroke-width="0.8" stroke-linejoin="round"/>
<polygon points="553.9,351.4 602.6,303.1 597.1,368.2" fill="#8fd652" stroke="#8fd652" stroke-width="0.8" stroke-linejoin="round"/>
<polygon points="851.3,351.4 802.6,303.1 808.1,368.2" fill="#649438" stroke="#649438" stroke-width="0.8" stroke-linejoin="round"/>
<circle cx="702.6" cy="398.8" r="8.1" fill="url(#gR)"/>
<circle cx="606.0" cy="149.5" r="7.9" fill="url(#gR)"/>
<circle cx="799.2" cy="149.5" r="7.9" fill="url(#gR)"/>
<circle cx="553.9" cy="351.4" r="8.1" fill="url(#gR)"/>
<circle cx="851.3" cy="351.4" r="8.1" fill="url(#gR)"/>
<polygon points="653.0,351.4 602.6,303.1 597.1,368.2" fill="#649438" stroke="#649438" stroke-width="0.8" stroke-linejoin="round"/>
<polygon points="752.2,351.4 802.6,303.1 808.1,368.2" fill="#8fd652" stroke="#8fd652" stroke-width="0.8" stroke-linejoin="round"/>
<circle cx="702.6" cy="149.5" r="7.9" fill="url(#gR)"/>
<polygon points="653.0,351.4 702.6,303.1 702.6,368.2" fill="#8fd652" stroke="#8fd652" stroke-width="0.8" stroke-linejoin="round"/>
<polygon points="752.2,351.4 702.6,303.1 702.6,368.2" fill="#649438" stroke="#649438" stroke-width="0.8" stroke-linejoin="round"/>
<circle cx="653.0" cy="248.5" r="21.5" fill="url(#gB)"/>
<circle cx="753.5" cy="248.5" r="21.5" fill="url(#gB)"/>
<circle cx="652.9" cy="360.5" r="18.5" fill="url(#gB)"/>
<circle cx="754.1" cy="361.5" r="18.5" fill="url(#gB)"/>
<circle cx="653.0" cy="351.4" r="8.1" fill="url(#gR)"/>
<circle cx="752.2" cy="351.4" r="8.1" fill="url(#gR)"/>
<polygon points="551.3,254.0 602.6,303.1 595.2,264.8" fill="url(#gBL)" stroke="#86b063" stroke-width="0.8" stroke-linejoin="round"/>
<polygon points="853.9,254.0 802.6,303.1 810.0,264.8" fill="url(#gBR)" stroke="#456628" stroke-width="0.8" stroke-linejoin="round"/>
<polygon points="652.2,254.0 602.6,303.1 595.2,264.8" fill="url(#gBR)" stroke="#456628" stroke-width="0.8" stroke-linejoin="round"/>
<polygon points="753.0,254.0 802.6,303.1 810.0,264.8" fill="url(#gBL)" stroke="#86b063" stroke-width="0.8" stroke-linejoin="round"/>
<polygon points="551.3,254.0 600.9,204.1 595.2,264.8" fill="#8fd652" stroke="#8fd652" stroke-width="0.8" stroke-linejoin="round"/>
<polygon points="853.9,254.0 804.3,204.1 810.0,264.8" fill="#649438" stroke="#649438" stroke-width="0.8" stroke-linejoin="round"/>
<circle cx="602.6" cy="303.1" r="8.2" fill="url(#gR)"/>
<circle cx="802.6" cy="303.1" r="8.2" fill="url(#gR)"/>
<polygon points="652.2,254.0 702.6,303.1 702.6,264.8" fill="url(#gBL)" stroke="#86b063" stroke-width="0.8" stroke-linejoin="round"/>
<polygon points="753.0,254.0 702.6,303.1 702.6,264.8" fill="url(#gBR)" stroke="#456628" stroke-width="0.8" stroke-linejoin="round"/>
<polygon points="652.2,254.0 600.9,204.1 595.2,264.8" fill="#649438" stroke="#649438" stroke-width="0.8" stroke-linejoin="round"/>
<polygon points="753.0,254.0 804.3,204.1 810.0,264.8" fill="#8fd652" stroke="#8fd652" stroke-width="0.8" stroke-linejoin="round"/>
<circle cx="551.3" cy="254.0" r="8.3" fill="url(#gR)"/>
<circle cx="853.9" cy="254.0" r="8.3" fill="url(#gR)"/>
<circle cx="702.6" cy="303.1" r="8.2" fill="url(#gR)"/>
<polygon points="652.2,254.0 702.6,204.1 702.6,264.8" fill="#8fd652" stroke="#8fd652" stroke-width="0.8" stroke-linejoin="round"/>
<polygon points="753.0,254.0 702.6,204.1 702.6,264.8" fill="#649438" stroke="#649438" stroke-width="0.8" stroke-linejoin="round"/>
<polygon points="548.7,153.3 600.9,204.1 593.2,157.6" fill="url(#gBL)" stroke="#86b063" stroke-width="0.8" stroke-linejoin="round"/>
<polygon points="856.5,153.3 804.3,204.1 812.0,157.6" fill="url(#gBR)" stroke="#456628" stroke-width="0.8" stroke-linejoin="round"/>
<polygon points="548.7,153.3 599.1,101.6 593.2,157.6" fill="#8fd652" stroke="#8fd652" stroke-width="0.8" stroke-linejoin="round"/>
<polygon points="856.5,153.3 806.1,101.6 812.0,157.6" fill="#649438" stroke="#649438" stroke-width="0.8" stroke-linejoin="round"/>
<polygon points="651.3,153.3 600.9,204.1 593.2,157.6" fill="url(#gBR)" stroke="#456628" stroke-width="0.8" stroke-linejoin="round"/>
<polygon points="753.9,153.3 804.3,204.1 812.0,157.6" fill="url(#gBL)" stroke="#86b063" stroke-width="0.8" stroke-linejoin="round"/>
<polygon points="651.3,153.3 599.1,101.6 593.2,157.6" fill="#649438" stroke="#649438" stroke-width="0.8" stroke-linejoin="round"/>
<polygon points="753.9,153.3 806.1,101.6 812.0,157.6" fill="#8fd652" stroke="#8fd652" stroke-width="0.8" stroke-linejoin="round"/>
<circle cx="652.2" cy="254.0" r="8.3" fill="url(#gR)"/>
<circle cx="753.0" cy="254.0" r="8.3" fill="url(#gR)"/>
<polygon points="651.3,153.3 702.6,204.1 702.6,157.6" fill="url(#gBL)" stroke="#86b063" stroke-width="0.8" stroke-linejoin="round"/>
<polygon points="753.9,153.3 702.6,204.1 702.6,157.6" fill="url(#gBR)" stroke="#456628" stroke-width="0.8" stroke-linejoin="round"/>
<circle cx="548.7" cy="153.3" r="8.4" fill="url(#gR)"/>
<circle cx="856.5" cy="153.3" r="8.4" fill="url(#gR)"/>
<polygon points="651.3,153.3 702.6,101.6 702.6,157.6" fill="#8fd652" stroke="#8fd652" stroke-width="0.8" stroke-linejoin="round"/>
<polygon points="753.9,153.3 702.6,101.6 702.6,157.6" fill="#649438" stroke="#649438" stroke-width="0.8" stroke-linejoin="round"/>
<circle cx="600.9" cy="204.1" r="8.3" fill="url(#gR)"/>
<circle cx="804.3" cy="204.1" r="8.3" fill="url(#gR)"/>
<circle cx="702.6" cy="204.1" r="8.3" fill="url(#gR)"/>
<circle cx="599.1" cy="101.6" r="8.5" fill="url(#gR)"/>
<circle cx="806.1" cy="101.6" r="8.5" fill="url(#gR)"/>
<circle cx="651.3" cy="153.3" r="8.4" fill="url(#gR)"/>
<circle cx="753.9" cy="153.3" r="8.4" fill="url(#gR)"/>
<circle cx="597.1" cy="368.2" r="8.7" fill="url(#gR)"/>
<circle cx="808.1" cy="368.2" r="8.7" fill="url(#gR)"/>
<circle cx="702.6" cy="101.6" r="8.5" fill="url(#gR)"/>
<circle cx="702.6" cy="368.2" r="8.7" fill="url(#gR)"/>
<circle cx="652.2" cy="130.0" r="23.9" fill="url(#gB)"/>
<circle cx="754.3" cy="130.0" r="23.9" fill="url(#gB)"/>
<circle cx="652.9" cy="243.6" r="22.8" fill="url(#gB)"/>
<circle cx="753.6" cy="243.6" r="23.2" fill="url(#gB)"/>
<circle cx="652.2" cy="350.7" r="19.4" fill="url(#gB)"/>
<circle cx="752.8" cy="350.7" r="19.5" fill="url(#gB)"/>
<polygon points="533.5,387.4 590.9,441.0 581.5,409.4" fill="url(#gBL)" stroke="#86b063" stroke-width="0.8" stroke-linejoin="round"/>
<polygon points="871.7,387.4 814.3,441.0 823.7,409.4" fill="url(#gBR)" stroke="#456628" stroke-width="0.8" stroke-linejoin="round"/>
<circle cx="595.2" cy="264.8" r="8.8" fill="url(#gR)"/>
<circle cx="810.0" cy="264.8" r="8.8" fill="url(#gR)"/>
<circle cx="590.9" cy="441.0" r="9.2" fill="url(#gR)"/>
<circle cx="814.3" cy="441.0" r="9.2" fill="url(#gR)"/>
<polygon points="646.2,387.4 590.9,441.0 581.5,409.4" fill="url(#gBR)" stroke="#456628" stroke-width="0.8" stroke-linejoin="round"/>
<polygon points="759.0,387.4 814.3,441.0 823.7,409.4" fill="url(#gBL)" stroke="#86b063" stroke-width="0.8" stroke-linejoin="round"/>
<polygon points="646.2,387.4 702.6,441.0 702.6,409.4" fill="url(#gBL)" stroke="#86b063" stroke-width="0.8" stroke-linejoin="round"/>
<polygon points="759.0,387.4 702.6,441.0 702.6,409.4" fill="url(#gBR)" stroke="#456628" stroke-width="0.8" stroke-linejoin="round"/>
<circle cx="702.6" cy="264.8" r="8.8" fill="url(#gR)"/>
<circle cx="702.6" cy="441.0" r="9.2" fill="url(#gR)"/>
<polygon points="533.5,387.4 588.8,332.8 581.5,409.4" fill="#8fd652" stroke="#8fd652" stroke-width="0.8" stroke-linejoin="round"/>
<polygon points="871.7,387.4 816.4,332.8 823.7,409.4" fill="#649438" stroke="#649438" stroke-width="0.8" stroke-linejoin="round"/>
<circle cx="533.5" cy="387.4" r="9.2" fill="url(#gR)"/>
<circle cx="871.7" cy="387.4" r="9.2" fill="url(#gR)"/>
<polygon points="646.2,387.4 588.8,332.8 581.5,409.4" fill="#649438" stroke="#649438" stroke-width="0.8" stroke-linejoin="round"/>
<polygon points="759.0,387.4 816.4,332.8 823.7,409.4" fill="#8fd652" stroke="#8fd652" stroke-width="0.8" stroke-linejoin="round"/>
<circle cx="593.2" cy="157.6" r="9.0" fill="url(#gR)"/>
<circle cx="812.0" cy="157.6" r="9.0" fill="url(#gR)"/>
<polygon points="646.2,387.4 702.6,332.8 702.6,409.4" fill="#8fd652" stroke="#8fd652" stroke-width="0.8" stroke-linejoin="round"/>
<polygon points="759.0,387.4 702.6,332.8 702.6,409.4" fill="#649438" stroke="#649438" stroke-width="0.8" stroke-linejoin="round"/>
<circle cx="702.6" cy="157.6" r="9.0" fill="url(#gR)"/>
<circle cx="646.2" cy="387.4" r="9.2" fill="url(#gR)"/>
<circle cx="759.0" cy="387.4" r="9.2" fill="url(#gR)"/>
<polygon points="530.2,277.1 588.8,332.8 579.0,291.3" fill="url(#gBL)" stroke="#86b063" stroke-width="0.8" stroke-linejoin="round"/>
<polygon points="875.0,277.1 816.4,332.8 826.2,291.3" fill="url(#gBR)" stroke="#456628" stroke-width="0.8" stroke-linejoin="round"/>
<polygon points="645.1,277.1 588.8,332.8 579.0,291.3" fill="url(#gBR)" stroke="#456628" stroke-width="0.8" stroke-linejoin="round"/>
<polygon points="760.1,277.1 816.4,332.8 826.2,291.3" fill="url(#gBL)" stroke="#86b063" stroke-width="0.8" stroke-linejoin="round"/>
<circle cx="588.8" cy="332.8" r="9.3" fill="url(#gR)"/>
<circle cx="816.4" cy="332.8" r="9.3" fill="url(#gR)"/>
<polygon points="530.2,277.1 586.5,220.4 579.0,291.3" fill="#8fd652" stroke="#8fd652" stroke-width="0.8" stroke-linejoin="round"/>
<polygon points="875.0,277.1 818.7,220.4 826.2,291.3" fill="#649438" stroke="#649438" stroke-width="0.8" stroke-linejoin="round"/>
<polygon points="645.1,277.1 702.6,332.8 702.6,291.3" fill="url(#gBL)" stroke="#86b063" stroke-width="0.8" stroke-linejoin="round"/>
<polygon points="760.1,277.1 702.6,332.8 702.6,291.3" fill="url(#gBR)" stroke="#456628" stroke-width="0.8" stroke-linejoin="round"/>
<circle cx="530.2" cy="277.1" r="9.4" fill="url(#gR)"/>
<circle cx="875.0" cy="277.1" r="9.4" fill="url(#gR)"/>
<polygon points="645.1,277.1 586.5,220.4 579.0,291.3" fill="#649438" stroke="#649438" stroke-width="0.8" stroke-linejoin="round"/>
<polygon points="760.1,277.1 818.7,220.4 826.2,291.3" fill="#8fd652" stroke="#8fd652" stroke-width="0.8" stroke-linejoin="round"/>
<circle cx="702.6" cy="332.8" r="9.3" fill="url(#gR)"/>
<polygon points="645.1,277.1 702.6,220.4 702.6,291.3" fill="#8fd652" stroke="#8fd652" stroke-width="0.8" stroke-linejoin="round"/>
<polygon points="760.1,277.1 702.6,220.4 702.6,291.3" fill="#649438" stroke="#649438" stroke-width="0.8" stroke-linejoin="round"/>
<polygon points="526.8,162.5 586.5,220.4 576.4,168.1" fill="url(#gBL)" stroke="#86b063" stroke-width="0.8" stroke-linejoin="round"/>
<polygon points="878.4,162.5 818.7,220.4 828.8,168.1" fill="url(#gBR)" stroke="#456628" stroke-width="0.8" stroke-linejoin="round"/>
<polygon points="526.8,162.5 584.2,103.5 576.4,168.1" fill="#8fd652" stroke="#8fd652" stroke-width="0.8" stroke-linejoin="round"/>
<polygon points="878.4,162.5 821.0,103.5 828.8,168.1" fill="#649438" stroke="#649438" stroke-width="0.8" stroke-linejoin="round"/>
<polygon points="644.0,162.5 586.5,220.4 576.4,168.1" fill="url(#gBR)" stroke="#456628" stroke-width="0.8" stroke-linejoin="round"/>
<polygon points="761.2,162.5 818.7,220.4 828.8,168.1" fill="url(#gBL)" stroke="#86b063" stroke-width="0.8" stroke-linejoin="round"/>
<circle cx="645.1" cy="277.1" r="9.4" fill="url(#gR)"/>
<circle cx="760.1" cy="277.1" r="9.4" fill="url(#gR)"/>
<polygon points="644.0,162.5 584.2,103.5 576.4,168.1" fill="#649438" stroke="#649438" stroke-width="0.8" stroke-linejoin="round"/>
<polygon points="761.2,162.5 821.0,103.5 828.8,168.1" fill="#8fd652" stroke="#8fd652" stroke-width="0.8" stroke-linejoin="round"/>
<circle cx="526.8" cy="162.5" r="9.6" fill="url(#gR)"/>
<circle cx="878.4" cy="162.5" r="9.6" fill="url(#gR)"/>
<polygon points="644.0,162.5 702.6,220.4 702.6,168.1" fill="url(#gBL)" stroke="#86b063" stroke-width="0.8" stroke-linejoin="round"/>
<polygon points="761.2,162.5 702.6,220.4 702.6,168.1" fill="url(#gBR)" stroke="#456628" stroke-width="0.8" stroke-linejoin="round"/>
<circle cx="586.5" cy="220.4" r="9.5" fill="url(#gR)"/>
<circle cx="818.7" cy="220.4" r="9.5" fill="url(#gR)"/>
<polygon points="644.0,162.5 702.6,103.5 702.6,168.1" fill="#8fd652" stroke="#8fd652" stroke-width="0.8" stroke-linejoin="round"/>
<polygon points="761.2,162.5 702.6,103.5 702.6,168.1" fill="#649438" stroke="#649438" stroke-width="0.8" stroke-linejoin="round"/>
<circle cx="702.6" cy="220.4" r="9.5" fill="url(#gR)"/>
<circle cx="581.5" cy="409.4" r="9.9" fill="url(#gR)"/>
<circle cx="823.7" cy="409.4" r="9.9" fill="url(#gR)"/>
<circle cx="584.2" cy="103.5" r="9.7" fill="url(#gR)"/>
<circle cx="821.0" cy="103.5" r="9.7" fill="url(#gR)"/>
<circle cx="644.0" cy="162.5" r="9.6" fill="url(#gR)"/>
<circle cx="761.2" cy="162.5" r="9.6" fill="url(#gR)"/>
<circle cx="702.6" cy="409.4" r="9.9" fill="url(#gR)"/>
<circle cx="702.6" cy="103.5" r="9.7" fill="url(#gR)"/>
<circle cx="579.0" cy="291.3" r="10.1" fill="url(#gR)"/>
<circle cx="826.2" cy="291.3" r="10.1" fill="url(#gR)"/>
<circle cx="702.6" cy="291.3" r="10.1" fill="url(#gR)"/>
<circle cx="576.4" cy="168.1" r="10.4" fill="url(#gR)"/>
<circle cx="828.8" cy="168.1" r="10.4" fill="url(#gR)"/>
<circle cx="702.6" cy="168.1" r="10.4" fill="url(#gR)"/>
<polygon points="570.1,14.7 600.6,28.3 600.6,58.8 578.5,73.5 549.1,58.8 548.1,31.5" fill="none" stroke="#808080" stroke-width="2.8"/>
<circle cx="570.1" cy="14.7" r="6.15" fill="url(#gC)"/>
<circle cx="600.6" cy="28.3" r="6.15" fill="url(#gC)"/>
<circle cx="600.6" cy="58.8" r="6.15" fill="url(#gC)"/>
<circle cx="578.5" cy="73.5" r="6.15" fill="url(#gC)"/>
<circle cx="549.1" cy="58.8" r="6.15" fill="url(#gC)"/>
<circle cx="548.1" cy="31.5" r="6.15" fill="url(#gC)"/>
<polygon points="682.4,11.5 712.9,27.3 712.9,56.7 690.8,72.4 661.4,56.7 660.4,29.4" fill="none" stroke="#808080" stroke-width="2.8"/>
<circle cx="682.4" cy="11.5" r="6.15" fill="url(#gC)"/>
<circle cx="712.9" cy="27.3" r="6.15" fill="url(#gC)"/>
<circle cx="712.9" cy="56.7" r="6.15" fill="url(#gC)"/>
<circle cx="690.8" cy="72.4" r="6.15" fill="url(#gC)"/>
<circle cx="661.4" cy="56.7" r="6.15" fill="url(#gC)"/>
<circle cx="660.4" cy="29.4" r="6.15" fill="url(#gC)"/>
<polygon points="798.7,10.5 829.1,24.1 829.1,54.6 807.1,69.3 777.3,54.6 776.0,27.3" fill="none" stroke="#808080" stroke-width="2.8"/>
<circle cx="798.7" cy="10.5" r="6.15" fill="url(#gC)"/>
<circle cx="829.1" cy="24.1" r="6.15" fill="url(#gC)"/>
<circle cx="829.1" cy="54.6" r="6.15" fill="url(#gC)"/>
<circle cx="807.1" cy="69.3" r="6.15" fill="url(#gC)"/>
<circle cx="777.3" cy="54.6" r="6.15" fill="url(#gC)"/>
<circle cx="776.0" cy="27.3" r="6.15" fill="url(#gC)"/>
<polygon points="449.4,152.2 479.8,151.2 493.5,174.3 479.8,204.7 451.5,204.7 434.7,181.6" fill="none" stroke="#808080" stroke-width="2.8"/>
<circle cx="449.4" cy="152.2" r="6.15" fill="url(#gC)"/>
<circle cx="479.8" cy="151.2" r="6.15" fill="url(#gC)"/>
<circle cx="493.5" cy="174.3" r="6.15" fill="url(#gC)"/>
<circle cx="479.8" cy="204.7" r="6.15" fill="url(#gC)"/>
<circle cx="451.5" cy="204.7" r="6.15" fill="url(#gC)"/>
<circle cx="434.7" cy="181.6" r="6.15" fill="url(#gC)"/>
<polygon points="451.5,268.7 481.9,268.1 496.0,290.4 481.9,321.2 454.6,321.2 437.8,298.5" fill="none" stroke="#808080" stroke-width="2.8"/>
<circle cx="451.5" cy="268.7" r="6.15" fill="url(#gC)"/>
<circle cx="481.9" cy="268.1" r="6.15" fill="url(#gC)"/>
<circle cx="496.0" cy="290.4" r="6.15" fill="url(#gC)"/>
<circle cx="481.9" cy="321.2" r="6.15" fill="url(#gC)"/>
<circle cx="454.6" cy="321.2" r="6.15" fill="url(#gC)"/>
<circle cx="437.8" cy="298.5" r="6.15" fill="url(#gC)"/>
<polygon points="454.6,380.5 484.0,380.5 498.7,403.2 485.1,431.9 456.7,432.6 440.0,409.9" fill="none" stroke="#808080" stroke-width="2.8"/>
<circle cx="454.6" cy="380.5" r="6.15" fill="url(#gC)"/>
<circle cx="484.0" cy="380.5" r="6.15" fill="url(#gC)"/>
<circle cx="498.7" cy="403.2" r="6.15" fill="url(#gC)"/>
<circle cx="485.1" cy="431.9" r="6.15" fill="url(#gC)"/>
<circle cx="456.7" cy="432.6" r="6.15" fill="url(#gC)"/>
<circle cx="440.0" cy="409.9" r="6.15" fill="url(#gC)"/>
<polygon points="910.0,173.2 925.0,151.2 955.1,150.7 969.8,181.6 953.0,203.7 924.7,202.6" fill="none" stroke="#808080" stroke-width="2.8"/>
<circle cx="910.0" cy="173.2" r="6.15" fill="url(#gC)"/>
<circle cx="925.0" cy="151.2" r="6.15" fill="url(#gC)"/>
<circle cx="955.1" cy="150.7" r="6.15" fill="url(#gC)"/>
<circle cx="969.8" cy="181.6" r="6.15" fill="url(#gC)"/>
<circle cx="953.0" cy="203.7" r="6.15" fill="url(#gC)"/>
<circle cx="924.7" cy="202.6" r="6.15" fill="url(#gC)"/>
<polygon points="907.9,288.7 922.6,267.1 952.6,267.1 967.7,297.5 950.3,320.2 922.6,319.5" fill="none" stroke="#808080" stroke-width="2.8"/>
<circle cx="907.9" cy="288.7" r="6.15" fill="url(#gC)"/>
<circle cx="922.6" cy="267.1" r="6.15" fill="url(#gC)"/>
<circle cx="952.6" cy="267.1" r="6.15" fill="url(#gC)"/>
<circle cx="967.7" cy="297.5" r="6.15" fill="url(#gC)"/>
<circle cx="950.3" cy="320.2" r="6.15" fill="url(#gC)"/>
<circle cx="922.6" cy="319.5" r="6.15" fill="url(#gC)"/>
<polygon points="905.8,402.3 920.0,380.0 949.8,380.0 965.0,410.5 948.0,432.5 920.3,431.5" fill="none" stroke="#808080" stroke-width="2.8"/>
<circle cx="905.8" cy="402.3" r="6.15" fill="url(#gC)"/>
<circle cx="920.0" cy="380.0" r="6.15" fill="url(#gC)"/>
<circle cx="949.8" cy="380.0" r="6.15" fill="url(#gC)"/>
<circle cx="965.0" cy="410.5" r="6.15" fill="url(#gC)"/>
<circle cx="948.0" cy="432.5" r="6.15" fill="url(#gC)"/>
<circle cx="920.3" cy="431.5" r="6.15" fill="url(#gC)"/>
<polygon points="601.6,476.0 632.1,491.4 632.5,518.6 610.4,535.4 580.6,519.7 580.6,491.4" fill="none" stroke="#808080" stroke-width="2.8"/>
<circle cx="601.6" cy="476.0" r="6.15" fill="url(#gC)"/>
<circle cx="632.1" cy="491.4" r="6.15" fill="url(#gC)"/>
<circle cx="632.5" cy="518.6" r="6.15" fill="url(#gC)"/>
<circle cx="610.4" cy="535.4" r="6.15" fill="url(#gC)"/>
<circle cx="580.6" cy="519.7" r="6.15" fill="url(#gC)"/>
<circle cx="580.6" cy="491.4" r="6.15" fill="url(#gC)"/>
<polygon points="717.3,473.9 747.5,488.6 748.8,515.9 725.7,532.7 696.3,518.6 695.6,488.6" fill="none" stroke="#808080" stroke-width="2.8"/>
<circle cx="717.3" cy="473.9" r="6.15" fill="url(#gC)"/>
<circle cx="747.5" cy="488.6" r="6.15" fill="url(#gC)"/>
<circle cx="748.8" cy="515.9" r="6.15" fill="url(#gC)"/>
<circle cx="725.7" cy="532.7" r="6.15" fill="url(#gC)"/>
<circle cx="696.3" cy="518.6" r="6.15" fill="url(#gC)"/>
<circle cx="695.6" cy="488.6" r="6.15" fill="url(#gC)"/>
<polygon points="830.0,472.0 860.0,486.5 860.9,513.8 837.8,530.6 809.0,515.9 808.4,486.1" fill="none" stroke="#808080" stroke-width="2.8"/>
<circle cx="830.0" cy="472.0" r="6.15" fill="url(#gC)"/>
<circle cx="860.0" cy="486.5" r="6.15" fill="url(#gC)"/>
<circle cx="860.9" cy="513.8" r="6.15" fill="url(#gC)"/>
<circle cx="837.8" cy="530.6" r="6.15" fill="url(#gC)"/>
<circle cx="809.0" cy="515.9" r="6.15" fill="url(#gC)"/>
<circle cx="808.4" cy="486.1" r="6.15" fill="url(#gC)"/>
</g>
<polygon filter="url(#b05)" points="1066,93 1117.3,110.1 1085.3,157.4 1075.5,153.7 1053.7,199.5 1042.8,196.2 998.1,268.1 1015.6,184.6 1028,188.6 1038.4,140.6 1054.8,143.9" fill="#d9a91c"/>
<path d="M610.3,541 C608.5,550 607,558 607.2,566 C607.4,577 607.8,583 608.6,588.8 C609.3,594 610,596.5 611.5,598.6 C613.5,601.5 615.5,603.5 617.7,606.3 C620.5,610 622.5,613.5 623.3,619.6 C624.2,626 624.8,632 624.7,639.2 C624.6,646 624.3,651 624,656" fill="none" stroke="#e8845c" stroke-width="1.5"/>
<polygon points="615.4,655.2 629.1,655.2 621.9,668.0" fill="#e26c31"/>
<path d="M727.2,541 C725.5,551 724.2,561 724.3,571 C724.4,580 724.9,587 725.7,592.6 C726.6,598 728,601 730.1,602.7 C732,604.3 734.2,605 735.9,607.1 C738,610 739,615 739.5,621.6 C740.3,630 741,637 741,643.4 C741,648 740.6,652 740.2,656" fill="none" stroke="#e8845c" stroke-width="1.5"/>
<polygon points="732.3,654.8 746.4,655.2 737.6,667.5" fill="#e26c31"/>
<path d="M838.2,536 C836.3,545 834.5,554 834.6,563.5 C834.7,571 835.2,577 836,582.4 C836.8,587.5 838,591.5 839.7,594 C841.5,596.5 843.6,597.3 845.5,599.1 C847.5,601 848.5,605 849.1,610 C850.2,618 851.2,624 851.3,630.3 C851.4,637 851,643 850.5,650" fill="none" stroke="#e8845c" stroke-width="1.5"/>
<polygon points="842.3,648.6 856.3,649.0 848.1,661.5" fill="#e26c31"/>
<path d="M536.6,555.7 C552,557.5 566.6,575 566.6,597 C566.6,620 556,638 543.8,646.4 L541.6,650.8 L532.2,643.4 L540.2,635.2 L541,639 C552,633 562.6,616 562.8,597 C562.8,580 551,565 536.6,563.1 Z" fill="url(#gY)"/>
<path d="M909.8,545.9 C892,548.5 879.2,568 879.2,591 C879.2,613 890,629.5 904.6,635.9 L903.6,640 L914,633 L907.3,624.2 L906,628.2 C894,622 883.2,609 883.2,591 C883.2,572 893.5,556.5 909.8,553.3 Z" fill="url(#gG)"/>
<g filter="url(#b04)">
<text transform="translate(303.4,475.1) scale(1.006,1)" style="font-family:'Liberation Sans',sans-serif;font-weight:bold;font-size:42.8px" fill="#000" >CsPbBr<tspan style="font-size:28.0px" dy="8.6">3</tspan><tspan dy="-8.6"> QDs</tspan></text>
<text transform="translate(450.3,568.4) scale(1.035,1)" style="font-family:'Liberation Sans',sans-serif;font-weight:bold;font-size:37.2px" fill="#000" >H<tspan style="font-size:23.0px" dy="7.6">2</tspan><tspan dy="-7.6">O</tspan></text>
<text transform="translate(479.0,647.9) scale(1.035,1)" style="font-family:'Liberation Sans',sans-serif;font-weight:bold;font-size:37.2px" fill="#000" >O<tspan style="font-size:23.0px" dy="7.9">2</tspan><tspan dy="-7.9"></tspan></text>
<text transform="translate(929.4,563.2) scale(1.035,1)" style="font-family:'Liberation Sans',sans-serif;font-weight:bold;font-size:37.2px" fill="#000" >CO<tspan style="font-size:23.0px" dy="8.3">2</tspan><tspan dy="-8.3"></tspan></text>
<text transform="translate(932.9,648.6) scale(1.035,1)" style="font-family:'Liberation Sans',sans-serif;font-weight:bold;font-size:37.2px" fill="#000" >CO</text>
<text transform="translate(574.3,567.2) scale(1.000,1)" style="font-family:'Liberation Sans',sans-serif;font-weight:bold;font-size:32.0px" fill="#c00000" >h<tspan style="font-size:20.0px" dy="-11.8" dx="1.5">+</tspan></text>
<text transform="translate(572.2,606.4) scale(1.000,1)" style="font-family:'Liberation Sans',sans-serif;font-weight:bold;font-size:32.0px" fill="#c00000" >h<tspan style="font-size:20.0px" dy="-11.8" dx="1.5">+</tspan></text>
<text transform="translate(588.3,650.5) scale(1.000,1)" style="font-family:'Liberation Sans',sans-serif;font-weight:bold;font-size:32.0px" fill="#c00000" >h<tspan style="font-size:20.0px" dy="-11.8" dx="1.5">+</tspan></text>
<text transform="translate(839.7,562.6) scale(1.000,1)" style="font-family:'Liberation Sans',sans-serif;font-weight:bold;font-size:34.0px" fill="#c00000" >e<tspan style="font-size:21.0px" dy="-10.4" dx="1.2">-</tspan></text>
<text transform="translate(843.2,599.7) scale(1.000,1)" style="font-family:'Liberation Sans',sans-serif;font-weight:bold;font-size:34.0px" fill="#c00000" >e<tspan style="font-size:21.0px" dy="-10.4" dx="1.2">-</tspan></text>
<text transform="translate(854.4,644.7) scale(1.000,1)" style="font-family:'Liberation Sans',sans-serif;font-weight:bold;font-size:34.0px" fill="#c00000" >e<tspan style="font-size:21.0px" dy="-10.4" dx="1.2">-</tspan></text>
<text transform="translate(61.3,867.4) scale(1.000,1)" style="font-family:'Liberation Sans',sans-serif;font-weight:bold;font-size:43.0px" fill="#000" >BP NSs</text>
<text transform="translate(41.8,1056.0) scale(1.000,1)" style="font-family:'Liberation Sans',sans-serif;font-weight:bold;font-size:43.6px" fill="#000" >PVP</text>
</g>
</svg></body></html>
